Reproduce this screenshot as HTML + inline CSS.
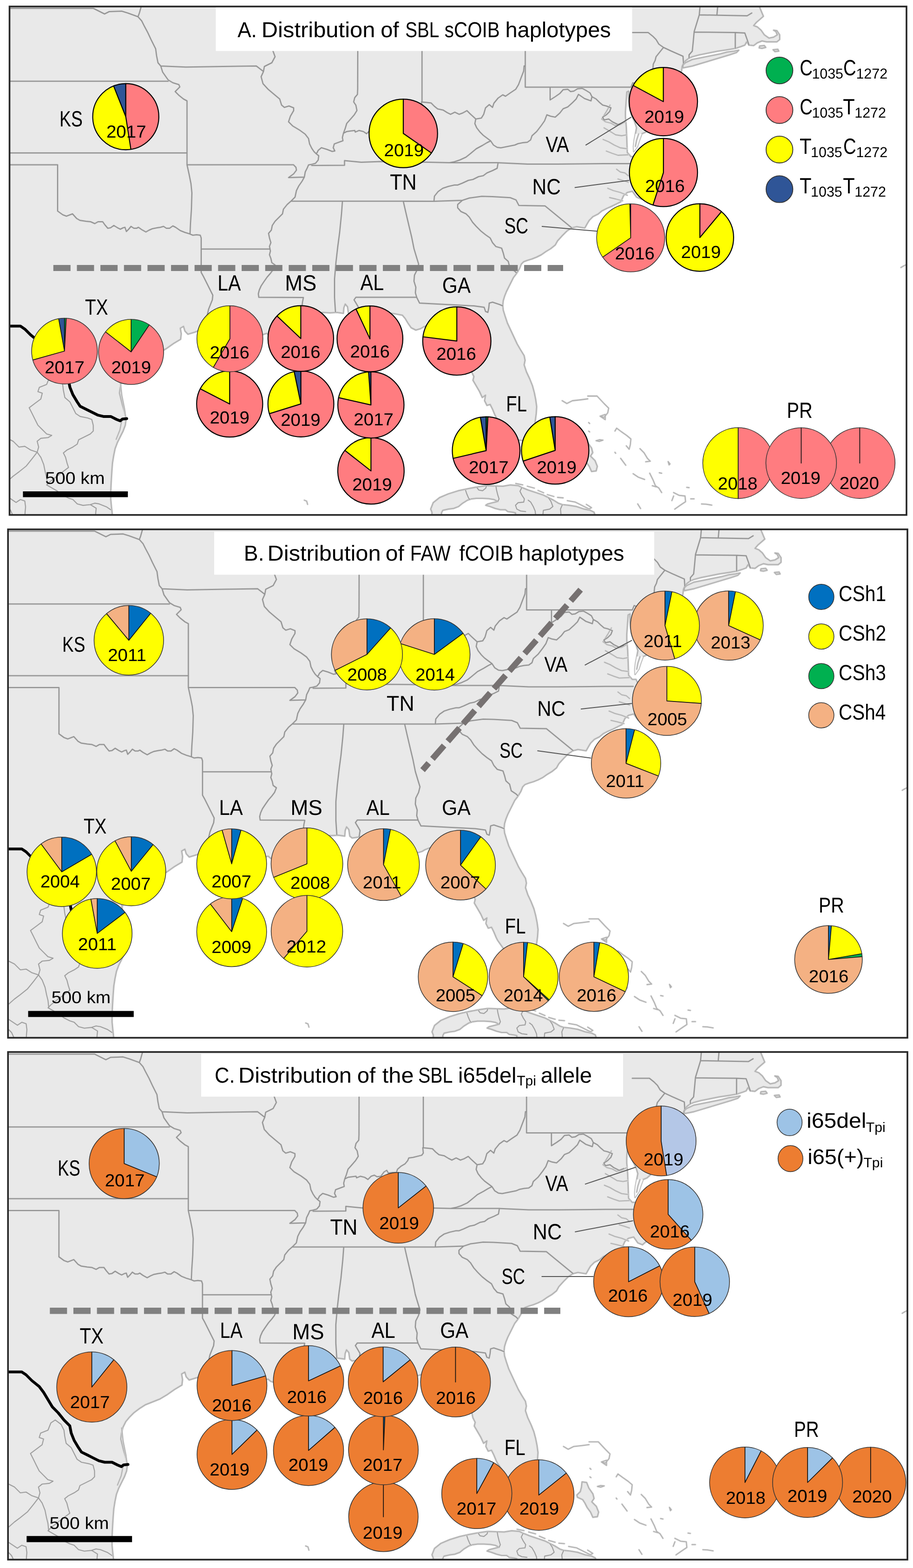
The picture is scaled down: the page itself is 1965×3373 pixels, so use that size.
<!DOCTYPE html>
<html lang="en"><head><meta charset="utf-8"><title>Distribution of haplotypes</title>
<style>
html,body{margin:0;padding:0;background:#fff;}
svg{display:block;font-family:"Liberation Sans",sans-serif;text-rendering:geometricPrecision;}
</style></head><body>
<svg width="1965" height="3373" viewBox="0 0 1965 3373" role="img" aria-label="Maps of haplotype distributions">
<defs>
<g id="basemap" stroke-linejoin="round" stroke-linecap="round">
<path id="mland" d="M1635.0 0.0 L1635.0 16.0 L1640.0 28.0 L1643.0 35.0 L1635.0 42.0 L1628.0 48.0 L1622.0 55.0 L1630.0 58.0 L1638.0 65.0 L1645.0 75.0 L1655.0 82.0 L1665.0 80.0 L1673.0 75.0 L1670.0 68.0 L1665.0 65.0 L1672.0 66.0 L1678.0 75.0 L1678.0 85.0 L1672.0 90.0 L1660.0 90.0 L1650.0 90.0 L1640.0 88.0 L1630.0 92.0 L1622.0 98.0 L1612.0 97.0 L1607.0 90.0 L1603.0 97.0 L1595.0 100.0 L1583.0 104.0 L1565.0 107.0 L1545.0 110.0 L1525.0 114.0 L1505.0 118.0 L1490.0 122.0 L1483.0 125.0 L1476.0 130.0 L1471.0 136.0 L1468.0 143.0 L1467.0 152.0 L1464.0 165.0 L1459.0 180.0 L1453.0 195.0 L1446.0 208.0 L1436.0 220.0 L1422.0 230.0 L1416.0 222.0 L1402.0 212.0 L1392.0 203.0 L1388.0 195.0 L1386.0 203.0 L1392.0 215.0 L1402.0 228.0 L1410.0 237.0 L1412.0 261.0 L1400.0 275.0 L1390.0 284.0 L1381.3 287.7 L1376.0 302.0 L1371.8 315.0 L1364.0 326.0 L1363.6 315.0 L1365.0 302.0 L1367.7 287.7 L1370.0 275.0 L1366.0 262.0 L1360.0 250.0 L1356.0 238.0 L1354.0 225.0 L1353.0 212.0 L1353.0 196.0 L1349.0 198.0 L1348.0 212.0 L1347.0 226.0 L1346.0 240.0 L1346.0 252.0 L1347.0 262.0 L1348.0 275.0 L1348.5 288.0 L1349.0 300.0 L1349.5 315.0 L1350.0 328.0 L1358.0 337.0 L1366.0 337.0 L1372.0 350.0 L1378.0 365.0 L1385.0 385.0 L1390.0 405.0 L1388.0 421.0 L1380.0 428.0 L1370.0 424.0 L1361.0 411.3 L1350.0 414.0 L1342.0 421.0 L1336.0 434.0 L1326.7 438.6 L1315.8 444.0 L1306.3 448.1 L1295.4 453.6 L1287.2 460.4 L1276.3 465.8 L1268.1 474.0 L1264.0 480.8 L1258.6 490.4 L1240.9 487.6 L1230.0 490.4 L1220.0 497.0 L1210.0 507.0 L1200.0 518.0 L1195.0 527.0 L1185.0 535.0 L1175.0 541.0 L1165.0 548.0 L1155.0 553.0 L1145.0 557.0 L1135.0 560.0 L1127.0 563.0 L1122.0 568.0 L1118.0 578.0 L1112.0 588.0 L1105.0 597.0 L1100.0 607.0 L1095.0 617.0 L1090.0 627.0 L1086.0 637.0 L1083.0 647.0 L1082.0 657.0 L1083.0 667.0 L1087.0 680.0 L1092.0 695.0 L1099.0 710.0 L1106.0 725.0 L1113.0 740.0 L1120.0 752.0 L1128.0 765.0 L1130.0 775.0 L1128.0 785.0 L1133.0 800.0 L1140.0 815.0 L1146.0 830.0 L1150.0 845.0 L1153.0 860.0 L1155.0 875.0 L1154.0 890.0 L1152.0 905.0 L1150.0 920.0 L1147.0 932.0 L1140.0 942.0 L1128.0 948.0 L1112.0 946.0 L1100.0 944.0 L1090.0 930.0 L1080.0 915.0 L1068.0 898.0 L1065.0 892.0 L1060.0 880.0 L1055.0 870.0 L1048.0 872.0 L1043.0 862.0 L1045.0 850.0 L1038.0 855.0 L1032.0 842.0 L1025.0 830.0 L1018.0 818.0 L1020.0 810.0 L1015.0 800.0 L1012.0 785.0 L1008.0 770.0 L1003.0 755.0 L1000.0 740.0 L990.0 725.0 L978.0 712.0 L965.0 700.0 L952.0 690.0 L940.0 690.0 L925.0 698.0 L912.0 703.0 L905.0 707.0 L895.0 710.0 L885.0 705.0 L878.0 695.0 L872.0 685.0 L866.0 678.0 L850.0 675.0 L830.0 672.0 L810.0 672.0 L790.0 673.0 L770.0 676.0 L755.0 678.0 L750.0 674.0 L748.0 660.0 L743.0 654.0 L740.0 662.0 L739.0 674.0 L725.0 672.0 L710.0 673.0 L695.0 672.0 L680.0 674.0 L670.0 680.0 L675.0 690.0 L685.0 700.0 L692.0 712.0 L695.0 725.0 L690.0 740.0 L680.0 735.0 L670.0 728.0 L660.0 735.0 L650.0 738.0 L640.0 735.0 L630.0 737.0 L615.0 737.0 L600.0 732.0 L590.0 725.0 L580.0 722.0 L574.0 717.0 L565.0 720.0 L555.0 715.0 L545.0 712.0 L538.0 711.0 L525.0 715.0 L510.0 712.0 L495.0 708.0 L480.0 706.0 L465.0 706.0 L450.0 707.0 L442.0 706.0 L430.0 710.0 L420.0 714.2 L404.4 718.9 L398.0 712.0 L395.0 702.0 L388.0 706.0 L390.0 718.0 L388.7 729.8 L373.0 739.2 L357.4 750.2 L341.7 759.6 L326.0 765.9 L310.3 772.1 L297.8 780.0 L285.3 789.4 L275.9 798.8 L268.0 808.2 L261.8 820.7 L258.6 833.2 L257.1 845.8 L260.2 858.3 L263.3 870.8 L267.1 883.4 L270.2 895.9 L271.2 902.2 L269.6 914.7 L264.9 927.2 L258.6 939.8 L252.4 952.3 L247.7 964.9 L244.5 980.5 L242.0 996.2 L240.8 1011.9 L239.8 1027.5 L238.9 1043.2 L238.3 1058.9 L238.3 1074.5 L239.8 1090.2 L241.4 1104.3 L242.0 1120.0 L0.0 1120.0 L0.0 0.0Z M927.0 1095.1 L932.4 1081.4 L946.0 1070.5 L965.1 1062.4 L986.9 1055.6 L1006.0 1051.5 L1027.8 1047.4 L1046.9 1044.7 L1065.9 1045.5 L1082.3 1046.0 L1098.6 1043.3 L1115.0 1044.7 L1123.2 1048.7 L1136.8 1054.2 L1153.1 1059.6 L1169.5 1065.1 L1180.4 1070.5 L1191.3 1076.0 L1202.2 1082.8 L1210.4 1085.5 L1224.0 1086.9 L1240.3 1089.6 L1256.7 1095.1 L1270.3 1097.8 L1278.5 1101.9 L1284.0 1120.0 L1109.5 1120.0 L1109.5 1103.2 L1104.1 1101.9 L1093.2 1100.5 L1087.7 1096.4 L1076.8 1096.4 L1065.9 1093.7 L1055.0 1089.6 L1045.5 1086.9 L1049.6 1084.2 L1060.5 1081.4 L1071.4 1078.7 L1063.2 1074.6 L1052.3 1072.7 L1038.7 1071.9 L1025.1 1071.9 L1014.2 1073.3 L1006.0 1076.0 L995.1 1082.8 L986.9 1089.6 L976.0 1093.7 L965.1 1095.1 L952.9 1097.8 L950.1 1103.2 L950.0 1120.0 L930.0 1120.0 L929.7 1101.9Z M1470.0 140.0 L1475.0 135.0 L1490.0 128.0 L1510.0 124.0 L1530.0 120.0 L1550.0 116.0 L1565.0 112.0 L1580.0 110.0 L1590.0 108.0 L1585.0 113.0 L1570.0 118.0 L1550.0 124.0 L1530.0 130.0 L1510.0 136.0 L1490.0 142.0 L1470.0 146.0Z M1635.0 99.0 L1645.0 98.0 L1648.0 102.0 L1640.0 104.0 L1634.0 103.0Z M1664.0 107.0 L1674.0 106.0 L1676.0 110.0 L1668.0 111.0Z M1249.9 938.2 L1259.7 939.4 L1264.6 951.7 L1273.2 964.0 L1275.7 973.8 L1270.8 981.1 L1280.6 990.9 L1285.5 1003.2 L1283.0 1013.0 L1273.2 1014.2 L1268.3 1003.2 L1261.0 993.4 L1256.1 983.6 L1251.2 976.2 L1240.1 971.3 L1238.9 966.4 L1246.2 959.1 L1248.7 949.3Z" fill="#e9e9e9" stroke="#d6d6d6" stroke-width="4.2"/>
<path d="M1635.0 0.0 L1635.0 16.0 L1640.0 28.0 L1643.0 35.0 L1635.0 42.0 L1628.0 48.0 L1622.0 55.0 L1630.0 58.0 L1638.0 65.0 L1645.0 75.0 L1655.0 82.0 L1665.0 80.0 L1673.0 75.0 L1670.0 68.0 L1665.0 65.0 L1672.0 66.0 L1678.0 75.0 L1678.0 85.0 L1672.0 90.0 L1660.0 90.0 L1650.0 90.0 L1640.0 88.0 L1630.0 92.0 L1622.0 98.0 L1612.0 97.0 L1607.0 90.0 L1603.0 97.0 L1595.0 100.0 L1583.0 104.0 L1565.0 107.0 L1545.0 110.0 L1525.0 114.0 L1505.0 118.0 L1490.0 122.0 L1483.0 125.0 L1476.0 130.0 L1471.0 136.0 L1468.0 143.0 L1467.0 152.0 L1464.0 165.0 L1459.0 180.0 L1453.0 195.0 L1446.0 208.0 L1436.0 220.0 L1422.0 230.0 L1416.0 222.0 L1402.0 212.0 L1392.0 203.0 L1388.0 195.0 L1386.0 203.0 L1392.0 215.0 L1402.0 228.0 L1410.0 237.0 L1412.0 261.0 L1400.0 275.0 L1390.0 284.0 L1381.3 287.7 L1376.0 302.0 L1371.8 315.0 L1364.0 326.0 L1363.6 315.0 L1365.0 302.0 L1367.7 287.7 L1370.0 275.0 L1366.0 262.0 L1360.0 250.0 L1356.0 238.0 L1354.0 225.0 L1353.0 212.0 L1353.0 196.0 L1349.0 198.0 L1348.0 212.0 L1347.0 226.0 L1346.0 240.0 L1346.0 252.0 L1347.0 262.0 L1348.0 275.0 L1348.5 288.0 L1349.0 300.0 L1349.5 315.0 L1350.0 328.0 L1358.0 337.0 L1366.0 337.0 L1372.0 350.0 L1378.0 365.0 L1385.0 385.0 L1390.0 405.0 L1388.0 421.0 L1380.0 428.0 L1370.0 424.0 L1361.0 411.3 L1350.0 414.0 L1342.0 421.0 L1336.0 434.0 L1326.7 438.6 L1315.8 444.0 L1306.3 448.1 L1295.4 453.6 L1287.2 460.4 L1276.3 465.8 L1268.1 474.0 L1264.0 480.8 L1258.6 490.4 L1240.9 487.6 L1230.0 490.4 L1220.0 497.0 L1210.0 507.0 L1200.0 518.0 L1195.0 527.0 L1185.0 535.0 L1175.0 541.0 L1165.0 548.0 L1155.0 553.0 L1145.0 557.0 L1135.0 560.0 L1127.0 563.0 L1122.0 568.0 L1118.0 578.0 L1112.0 588.0 L1105.0 597.0 L1100.0 607.0 L1095.0 617.0 L1090.0 627.0 L1086.0 637.0 L1083.0 647.0 L1082.0 657.0 L1083.0 667.0 L1087.0 680.0 L1092.0 695.0 L1099.0 710.0 L1106.0 725.0 L1113.0 740.0 L1120.0 752.0 L1128.0 765.0 L1130.0 775.0 L1128.0 785.0 L1133.0 800.0 L1140.0 815.0 L1146.0 830.0 L1150.0 845.0 L1153.0 860.0 L1155.0 875.0 L1154.0 890.0 L1152.0 905.0 L1150.0 920.0 L1147.0 932.0 L1140.0 942.0 L1128.0 948.0 L1112.0 946.0 L1100.0 944.0 L1090.0 930.0 L1080.0 915.0 L1068.0 898.0 L1065.0 892.0 L1060.0 880.0 L1055.0 870.0 L1048.0 872.0 L1043.0 862.0 L1045.0 850.0 L1038.0 855.0 L1032.0 842.0 L1025.0 830.0 L1018.0 818.0 L1020.0 810.0 L1015.0 800.0 L1012.0 785.0 L1008.0 770.0 L1003.0 755.0 L1000.0 740.0 L990.0 725.0 L978.0 712.0 L965.0 700.0 L952.0 690.0 L940.0 690.0 L925.0 698.0 L912.0 703.0 L905.0 707.0 L895.0 710.0 L885.0 705.0 L878.0 695.0 L872.0 685.0 L866.0 678.0 L850.0 675.0 L830.0 672.0 L810.0 672.0 L790.0 673.0 L770.0 676.0 L755.0 678.0 L750.0 674.0 L748.0 660.0 L743.0 654.0 L740.0 662.0 L739.0 674.0 L725.0 672.0 L710.0 673.0 L695.0 672.0 L680.0 674.0 L670.0 680.0 L675.0 690.0 L685.0 700.0 L692.0 712.0 L695.0 725.0 L690.0 740.0 L680.0 735.0 L670.0 728.0 L660.0 735.0 L650.0 738.0 L640.0 735.0 L630.0 737.0 L615.0 737.0 L600.0 732.0 L590.0 725.0 L580.0 722.0 L574.0 717.0 L565.0 720.0 L555.0 715.0 L545.0 712.0 L538.0 711.0 L525.0 715.0 L510.0 712.0 L495.0 708.0 L480.0 706.0 L465.0 706.0 L450.0 707.0 L442.0 706.0 L430.0 710.0 L420.0 714.2 L404.4 718.9 L398.0 712.0 L395.0 702.0 L388.0 706.0 L390.0 718.0 L388.7 729.8 L373.0 739.2 L357.4 750.2 L341.7 759.6 L326.0 765.9 L310.3 772.1 L297.8 780.0 L285.3 789.4 L275.9 798.8 L268.0 808.2 L261.8 820.7 L258.6 833.2 L257.1 845.8 L260.2 858.3 L263.3 870.8 L267.1 883.4 L270.2 895.9 L271.2 902.2 L269.6 914.7 L264.9 927.2 L258.6 939.8 L252.4 952.3 L247.7 964.9 L244.5 980.5 L242.0 996.2 L240.8 1011.9 L239.8 1027.5 L238.9 1043.2 L238.3 1058.9 L238.3 1074.5 L239.8 1090.2 L241.4 1104.3 L242.0 1120.0 L0.0 1120.0 L0.0 0.0Z M927.0 1095.1 L932.4 1081.4 L946.0 1070.5 L965.1 1062.4 L986.9 1055.6 L1006.0 1051.5 L1027.8 1047.4 L1046.9 1044.7 L1065.9 1045.5 L1082.3 1046.0 L1098.6 1043.3 L1115.0 1044.7 L1123.2 1048.7 L1136.8 1054.2 L1153.1 1059.6 L1169.5 1065.1 L1180.4 1070.5 L1191.3 1076.0 L1202.2 1082.8 L1210.4 1085.5 L1224.0 1086.9 L1240.3 1089.6 L1256.7 1095.1 L1270.3 1097.8 L1278.5 1101.9 L1284.0 1120.0 L1109.5 1120.0 L1109.5 1103.2 L1104.1 1101.9 L1093.2 1100.5 L1087.7 1096.4 L1076.8 1096.4 L1065.9 1093.7 L1055.0 1089.6 L1045.5 1086.9 L1049.6 1084.2 L1060.5 1081.4 L1071.4 1078.7 L1063.2 1074.6 L1052.3 1072.7 L1038.7 1071.9 L1025.1 1071.9 L1014.2 1073.3 L1006.0 1076.0 L995.1 1082.8 L986.9 1089.6 L976.0 1093.7 L965.1 1095.1 L952.9 1097.8 L950.1 1103.2 L950.0 1120.0 L930.0 1120.0 L929.7 1101.9Z M1470.0 140.0 L1475.0 135.0 L1490.0 128.0 L1510.0 124.0 L1530.0 120.0 L1550.0 116.0 L1565.0 112.0 L1580.0 110.0 L1590.0 108.0 L1585.0 113.0 L1570.0 118.0 L1550.0 124.0 L1530.0 130.0 L1510.0 136.0 L1490.0 142.0 L1470.0 146.0Z M1635.0 99.0 L1645.0 98.0 L1648.0 102.0 L1640.0 104.0 L1634.0 103.0Z M1664.0 107.0 L1674.0 106.0 L1676.0 110.0 L1668.0 111.0Z M1249.9 938.2 L1259.7 939.4 L1264.6 951.7 L1273.2 964.0 L1275.7 973.8 L1270.8 981.1 L1280.6 990.9 L1285.5 1003.2 L1283.0 1013.0 L1273.2 1014.2 L1268.3 1003.2 L1261.0 993.4 L1256.1 983.6 L1251.2 976.2 L1240.1 971.3 L1238.9 966.4 L1246.2 959.1 L1248.7 949.3Z" fill="none" stroke="#b0b0b0" stroke-width="2"/>
<path d="M1381.3 287.7 L1376.0 302.0 L1371.8 315.0 L1364.0 326.0 L1363.6 315.0 L1365.0 302.0 L1367.7 287.7Z" fill="#fafafa"/>
<path d="M1210.0 862.0 L1220.0 868.0 L1232.0 862.0 L1250.0 860.0 L1265.0 858.0 M1265.0 852.0 L1285.0 852.0 L1300.0 868.0 L1310.0 878.0 L1308.0 888.0 L1300.0 898.0 L1293.0 895.0 M1291.6 895.3 L1302.6 891.6 L1302.6 902.7 L1291.6 895.3 M1283.0 948.0 L1290.0 946.0 L1297.7 946.8 L1290.0 949.5 L1283.0 948.0 M1323.5 927.2 L1327.2 921.1 L1337.0 928.4 L1349.2 937.0 L1357.8 944.3 L1356.6 956.6 L1354.1 966.4 L1348.0 959.1 M1377.4 965.2 L1386.0 973.8 L1393.4 986.0 L1399.5 992.2 L1389.7 993.4 M1335.8 986.0 L1346.8 1000.8 M1362.7 1019.1 L1373.8 1026.5 L1387.3 1031.4 M1398.3 1017.9 L1405.6 1032.6 L1410.6 1044.9 L1417.9 1049.8 L1424.0 1059.6 M1404.0 1044.9 L1412.6 1047.3 M1438.0 993.0 L1442.0 998.0 L1440.0 1000.0 L1438.0 993.0 M1419.0 1017.0 L1424.0 1018.0 M1478.0 1048.3 L1483.0 1049.0 M1449.8 1059.6 L1462.0 1065.7 L1474.3 1067.0 L1475.5 1079.2 L1464.5 1086.6 L1452.2 1095.2 M1449.8 1067.0 L1446.1 1076.8 M1509.9 1084.1 L1520.0 1084.6 L1531.9 1086.6 M1486.6 1073.1 L1493.9 1073.1 M1372.5 1084.1 L1378.7 1093.9 M1267.0 909.0 L1269.0 911.0 M1267.0 927.5 L1269.0 929.0 M1323.5 973.0 L1325.0 975.0 M655.0 1076.0 L660.0 1078.0 L662.0 1085.0 M1939.0 575.5 L1944.0 572.5 L1949.0 570.0 M1110.0 1040.0 L1125.0 1043.0 M1135.0 1046.0 L1150.0 1050.0 M1158.0 1055.0 L1170.0 1060.0 M1178.0 1064.0 L1192.0 1068.0 M1200.0 1070.0 L1212.0 1071.0 M1221.0 1077.0 L1238.0 1080.0 L1254.0 1088.0 L1268.0 1095.0 L1273.0 1092.0 L1262.0 1085.0 M259.0 822.0 L262.0 850.0 L268.0 880.0 L270.0 895.0 M262.0 905.0 L258.0 925.0 L250.0 945.0 M1313.0 226.0 L1305.0 240.0 L1295.0 256.0 L1303.0 262.0 L1315.0 265.0 L1324.0 270.0 L1335.0 268.0 L1346.0 262.0 M1300.0 275.0 L1312.0 282.0 L1325.0 290.0 L1338.0 292.0 L1349.0 290.0 M1298.0 300.0 L1310.0 305.0 L1322.0 312.0 L1335.0 318.0 L1350.0 320.0 M1305.0 325.0 L1318.0 330.0 L1330.0 334.0 L1352.0 333.0 M1374.5 288.0 L1370.0 302.0 L1367.5 315.0 M1327.0 364.0 L1335.0 370.0 L1345.0 372.0 L1352.0 378.0 M1330.0 385.0 L1340.0 388.0 L1352.0 392.0 M1308.0 405.0 L1320.0 410.0 L1335.0 414.0 L1350.0 420.0 M1312.0 425.0 L1325.0 428.0 L1340.0 432.0" fill="none" stroke="#dadada" stroke-width="3.8"/>
<path d="M1210.0 862.0 L1220.0 868.0 L1232.0 862.0 L1250.0 860.0 L1265.0 858.0 M1265.0 852.0 L1285.0 852.0 L1300.0 868.0 L1310.0 878.0 L1308.0 888.0 L1300.0 898.0 L1293.0 895.0 M1291.6 895.3 L1302.6 891.6 L1302.6 902.7 L1291.6 895.3 M1283.0 948.0 L1290.0 946.0 L1297.7 946.8 L1290.0 949.5 L1283.0 948.0 M1323.5 927.2 L1327.2 921.1 L1337.0 928.4 L1349.2 937.0 L1357.8 944.3 L1356.6 956.6 L1354.1 966.4 L1348.0 959.1 M1377.4 965.2 L1386.0 973.8 L1393.4 986.0 L1399.5 992.2 L1389.7 993.4 M1335.8 986.0 L1346.8 1000.8 M1362.7 1019.1 L1373.8 1026.5 L1387.3 1031.4 M1398.3 1017.9 L1405.6 1032.6 L1410.6 1044.9 L1417.9 1049.8 L1424.0 1059.6 M1404.0 1044.9 L1412.6 1047.3 M1438.0 993.0 L1442.0 998.0 L1440.0 1000.0 L1438.0 993.0 M1419.0 1017.0 L1424.0 1018.0 M1478.0 1048.3 L1483.0 1049.0 M1449.8 1059.6 L1462.0 1065.7 L1474.3 1067.0 L1475.5 1079.2 L1464.5 1086.6 L1452.2 1095.2 M1449.8 1067.0 L1446.1 1076.8 M1509.9 1084.1 L1520.0 1084.6 L1531.9 1086.6 M1486.6 1073.1 L1493.9 1073.1 M1372.5 1084.1 L1378.7 1093.9 M1267.0 909.0 L1269.0 911.0 M1267.0 927.5 L1269.0 929.0 M1323.5 973.0 L1325.0 975.0 M655.0 1076.0 L660.0 1078.0 L662.0 1085.0 M1939.0 575.5 L1944.0 572.5 L1949.0 570.0 M1110.0 1040.0 L1125.0 1043.0 M1135.0 1046.0 L1150.0 1050.0 M1158.0 1055.0 L1170.0 1060.0 M1178.0 1064.0 L1192.0 1068.0 M1200.0 1070.0 L1212.0 1071.0 M1221.0 1077.0 L1238.0 1080.0 L1254.0 1088.0 L1268.0 1095.0 L1273.0 1092.0 L1262.0 1085.0 M259.0 822.0 L262.0 850.0 L268.0 880.0 L270.0 895.0 M262.0 905.0 L258.0 925.0 L250.0 945.0 M1313.0 226.0 L1305.0 240.0 L1295.0 256.0 L1303.0 262.0 L1315.0 265.0 L1324.0 270.0 L1335.0 268.0 L1346.0 262.0 M1300.0 275.0 L1312.0 282.0 L1325.0 290.0 L1338.0 292.0 L1349.0 290.0 M1298.0 300.0 L1310.0 305.0 L1322.0 312.0 L1335.0 318.0 L1350.0 320.0 M1305.0 325.0 L1318.0 330.0 L1330.0 334.0 L1352.0 333.0 M1374.5 288.0 L1370.0 302.0 L1367.5 315.0 M1327.0 364.0 L1335.0 370.0 L1345.0 372.0 L1352.0 378.0 M1330.0 385.0 L1340.0 388.0 L1352.0 392.0 M1308.0 405.0 L1320.0 410.0 L1335.0 414.0 L1350.0 420.0 M1312.0 425.0 L1325.0 428.0 L1340.0 432.0" fill="none" stroke="#b0b0b0" stroke-width="1.8"/>
<path d="M0.0 18.0 L201.0 18.0 L225.0 30.0 L235.0 25.0 L262.0 24.0 L275.0 28.0 L297.0 36.0 M297.0 36.0 L300.0 28.0 L305.0 10.0 M297.0 36.0 L305.0 45.0 L310.0 55.0 L318.0 70.0 L325.0 85.0 L330.0 95.0 L335.0 105.0 L337.0 120.0 L340.0 135.0 L346.0 142.0 L350.0 155.0 L357.0 165.0 L362.0 172.0 L372.0 178.0 L385.0 182.0 L387.0 187.0 L377.0 197.0 L385.0 205.0 L395.0 213.0 L402.5 217.0 L402.5 354.5 M346.0 142.0 L400.0 144.3 L480.0 143.0 L551.6 141.9 L567.0 153.8 M0.0 174.7 L362.0 174.7 M0.0 329.0 L402.5 329.0 M0.0 354.5 L124.0 354.5 L124.0 454.0 M124.0 454.0 L135.0 462.0 L143.0 465.0 L156.0 460.0 L165.0 470.0 L172.0 474.0 L185.0 476.0 L195.0 477.0 L204.0 481.0 L211.0 477.0 L221.0 477.0 L226.0 484.0 L232.0 491.0 L238.0 490.0 L245.0 485.0 L253.0 490.0 L259.0 493.0 L265.0 490.0 L269.0 489.0 L272.0 498.0 L277.0 493.0 L282.0 487.0 L288.0 491.0 L294.0 491.0 L298.0 489.0 L305.0 494.0 L314.0 499.0 L321.0 495.0 L328.0 492.0 L338.0 490.0 L345.0 489.0 L352.0 487.0 L358.0 491.0 L365.0 491.0 L372.0 486.0 L378.0 489.0 L388.0 496.0 L398.0 500.0 L408.0 503.0 L415.0 506.0 L423.0 505.0 L431.0 506.0 L433.0 512.0 M402.5 354.5 L407.0 375.0 L411.0 395.0 L413.0 415.0 L412.0 450.0 L410.0 480.0 L409.0 503.0 M402.5 354.5 L631.6 354.4 L637.0 360.0 L638.0 366.0 L632.0 374.0 L621.0 382.0 L655.0 381.0 M433.0 512.0 L433.0 586.0 L438.0 595.0 L443.0 605.0 L448.0 615.0 L453.0 625.0 L458.0 635.0 L457.0 645.0 L453.0 655.0 L449.0 665.0 L446.0 678.0 L444.0 690.0 L442.0 706.0 M433.0 535.7 L581.0 535.7 M584.0 100.0 L592.0 122.0 L585.0 135.0 L569.0 143.0 L567.0 154.0 L562.0 165.0 L566.0 180.0 L577.0 192.0 L590.0 203.0 L602.0 213.0 L606.0 226.0 L612.0 231.0 L622.0 228.0 L632.0 232.0 L632.0 238.0 L625.0 250.0 L621.0 262.0 L630.0 271.0 L645.0 280.0 L657.0 288.8 L664.0 298.0 L666.3 309.6 L670.9 318.9 L675.5 325.8 L680.2 330.5 M680.2 330.5 L686.0 335.1 L684.8 344.4 L679.0 351.3 L670.9 353.6 L664.0 354.8 L661.6 360.6 L657.0 369.8 L655.0 381.0 L650.0 390.0 L643.0 400.0 L638.0 410.0 L635.0 424.0 L627.0 432.0 L618.0 440.0 L610.0 450.0 L608.0 460.0 L600.0 468.0 L592.0 476.0 L586.0 485.0 L584.0 495.0 L578.0 502.0 L580.0 512.0 L583.0 522.0 L580.0 530.0 L582.0 540.0 L580.0 548.0 L583.0 556.0 L585.0 565.0 L592.0 570.0 L588.0 580.0 L582.0 588.0 L575.0 596.0 L568.0 606.0 L562.0 615.0 L558.0 624.0 L556.0 632.0 L557.0 639.5 M557.0 639.5 L653.0 640.0 L651.0 650.0 L650.0 660.0 L652.0 672.0 L660.0 680.0 L670.0 680.0 M680.2 330.5 L682.5 328.2 L684.8 323.5 L691.7 317.7 L703.3 321.2 L714.9 325.8 L720.7 324.7 L717.2 317.7 L719.5 309.6 L728.8 306.1 L738.1 302.7 L736.9 295.7 L739.2 286.5 M739.2 286.5 L742.7 277.2 L746.2 265.6 L754.3 256.4 L762.4 247.1 L768.2 237.8 L765.9 226.2 L761.2 219.3 L763.5 210.0 L769.3 203.1 L769.8 191.5 L770.0 100.0 M739.2 286.5 L746.2 283.0 L754.3 281.8 L763.5 280.7 L764.7 284.1 L772.8 280.7 L782.1 283.0 L789.0 287.6 L796.0 280.7 L802.9 278.4 L808.7 281.8 L816.8 280.7 L823.8 271.4 L829.5 267.9 L833.0 273.7 L842.3 272.6 L850.4 272.6 L852.7 265.6 L860.8 258.7 L868.9 254.0 L874.7 247.1 L877.0 241.3 L886.3 240.1 L895.6 237.8 L904.8 235.5 L908.3 230.9 L907.1 219.3 L918.7 220.5 L928.0 221.6 L934.9 228.6 L941.9 234.3 L953.5 236.7 L962.7 242.4 L969.7 245.9 L978.9 241.3 L988.2 245.9 L996.0 243.0 L1005.0 238.0 L1012.0 245.0 L1024.0 256.0 M908.3 100.0 L908.3 219.3 M1024.0 256.0 L1036.0 254.0 L1041.0 246.0 L1045.0 232.0 L1053.0 225.0 L1060.0 231.0 L1063.0 222.0 L1072.0 211.0 L1082.0 204.0 L1088.0 207.0 L1098.0 200.0 L1110.0 192.0 L1116.0 182.0 L1122.0 166.0 L1127.0 153.0 L1128.0 142.0 L1130.5 141.0 M1130.5 100.0 L1130.5 187.5 L1358.0 187.5 M1184.0 187.5 L1184.0 215.0 L1195.0 208.0 L1205.0 201.0 L1212.0 193.0 L1222.0 192.0 L1228.0 197.0 L1235.0 196.0 L1243.0 191.0 L1253.0 190.0 L1262.0 195.0 L1270.0 200.0 L1274.0 208.0 L1272.0 217.0 M1272.0 217.0 L1258.0 212.0 L1245.0 203.0 L1240.0 213.0 L1232.0 221.0 L1222.0 230.0 L1212.0 234.0 L1205.0 243.0 L1195.0 252.0 L1185.0 250.0 L1177.0 247.0 L1172.0 260.0 L1165.0 270.0 L1155.0 283.0 L1145.0 292.0 L1142.0 301.0 L1135.0 306.0 L1125.0 307.0 L1115.0 309.0 L1108.0 312.0 L1098.0 314.0 L1088.0 316.0 L1078.0 318.0 L1070.0 317.0 L1062.0 312.0 L1056.0 303.0 M1024.0 256.0 L1022.0 266.0 L1026.0 275.0 L1033.0 284.0 L1040.0 291.0 L1048.0 297.0 L1056.0 303.0 M1056.0 303.0 L1048.0 307.0 L1038.0 313.0 L1025.0 320.0 L1013.0 330.0 L1003.0 338.0 L990.0 344.0 L978.0 348.0 L967.0 350.0 M670.9 355.9 L741.5 355.5 L741.5 345.5 L777.4 349.0 L820.0 347.5 L880.0 348.0 L967.0 350.0 L1070.0 350.0 L1135.0 353.0 L1200.0 353.0 L1300.0 352.0 L1360.0 352.0 M1072.0 350.0 L1070.0 362.0 L1060.0 367.0 L1048.0 372.0 L1040.0 378.0 L1030.0 380.0 L1018.0 386.0 L1008.0 388.0 L995.0 394.0 L985.0 398.0 L978.0 398.0 L965.0 401.0 L953.0 405.0 L943.0 412.0 L935.0 422.0 L934.0 433.0 M627.0 432.8 L737.0 432.8 L868.0 432.8 L934.0 433.0 L995.0 431.0 M737.0 433.0 L735.0 460.0 L731.0 500.0 L727.0 530.0 L723.0 565.0 L720.0 600.0 L720.0 640.0 L722.0 671.0 M868.0 433.0 L873.0 455.0 L880.0 485.0 L886.0 510.0 L891.0 535.0 L897.0 555.0 L901.0 568.0 L898.0 580.0 L892.0 592.0 L891.0 605.0 L895.0 618.0 L894.0 630.0 L897.0 640.0 L903.0 652.0 M897.0 639.5 L766.0 639.5 L762.0 645.0 L768.0 655.0 L772.0 662.0 L770.0 676.0 M903.0 652.0 L960.0 655.0 L1020.0 658.0 L1042.0 661.0 L1045.0 670.0 L1050.0 672.0 L1052.0 662.0 L1053.0 652.0 L1060.0 650.0 L1075.0 655.0 L1082.0 658.0 M995.0 431.0 L1010.0 426.0 L1037.0 422.3 L1060.0 423.0 L1098.3 425.2 L1110.6 430.1 L1116.7 441.9 L1173.1 442.9 L1230.7 490.2 M995.0 431.0 L985.0 440.0 L985.0 447.0 L992.0 455.0 L1003.0 460.0 L1010.0 467.0 L1017.0 478.0 L1025.0 487.0 L1035.0 497.0 L1045.0 505.0 L1055.0 512.0 L1060.0 522.0 L1067.3 530.4 L1079.7 533.9 L1083.2 544.6 L1085.9 555.2 L1093.9 562.3 L1097.4 576.5 L1108.0 583.5 L1111.6 587.1 M1274.0 208.0 L1283.0 213.0 L1290.0 220.0 L1297.0 226.0 L1305.0 228.0 L1315.0 232.0 L1312.0 240.0 L1305.0 247.0 L1297.0 252.0 L1300.0 258.0 L1310.0 256.0 L1318.0 262.0 L1330.0 268.0 L1340.0 264.0 M1358.0 70.0 L1395.0 70.0 L1405.0 78.0 L1412.0 85.0 L1418.0 95.0 L1428.0 102.0 L1420.0 112.0 L1412.0 122.0 L1410.0 130.0 L1406.0 138.0 L1405.0 150.0 L1398.0 160.0 L1390.0 170.0 L1385.0 180.0 L1384.0 190.0 L1388.0 195.0 M1428.0 102.0 L1445.0 110.0 L1470.0 121.0 L1471.0 136.0 M1358.0 187.5 L1362.0 178.0 L1372.0 182.0 L1374.0 200.0 L1376.0 240.0 L1378.0 262.0 L1411.0 262.0 M1507.0 10.0 L1505.0 32.0 L1498.0 55.0 L1494.0 68.0 L1492.0 90.0 L1490.0 110.0 L1483.0 118.0 L1483.0 125.0 M1505.0 32.0 L1608.0 34.0 L1618.0 28.0 M1545.0 10.0 L1543.0 32.0 M1494.0 69.0 L1583.0 70.0 L1603.0 71.0 L1608.0 85.0 L1612.0 97.0 M1582.5 70.0 L1582.5 104.0" fill="none" stroke="#d0d0d0" stroke-width="3.8"/>
<path d="M128.6 814.4 L134.9 827.0 L136.4 839.5 L139.6 855.2 L150.5 864.6 L156.8 877.1 L163.1 889.6 L172.5 895.9 L188.1 899.0 L197.5 902.2 L200.7 914.7 L200.7 927.2 L194.4 933.5 L181.9 939.8 L169.3 946.0 L166.2 955.4 L156.8 961.7 L144.3 968.0 L136.4 974.3 L141.1 983.7 L144.3 996.2 L147.4 1005.6 L134.9 1015.0 L122.3 1024.4 L106.7 1036.9 L100.4 1043.2 L122.3 1055.7 L134.9 1065.1 L147.4 1071.4 L156.8 1074.5 L166.2 1083.9 L178.7 1087.1 L194.4 1085.5 L203.8 1082.4 L213.2 1083.9 L228.9 1090.2 L238.3 1096.5 M128.6 814.4 L116.1 805.0 L106.7 811.3 L100.4 827.0 L84.7 833.2 L81.6 842.6 L91.0 845.8 L87.9 858.3 L75.3 867.7 L62.8 877.1 L69.1 889.6 L75.3 902.2 L81.6 914.7 L91.0 924.1 L100.4 933.5 L111.4 936.6 L103.5 941.3 L87.9 942.9 L80.0 949.2 L83.2 961.7 L80.0 972.7 M15.8 942.9 L28.3 949.2 L40.9 961.7 L53.4 960.1 L65.9 968.0 L80.0 972.7 M80.0 972.7 L87.9 983.7 L94.1 999.3 L97.3 1015.0 L100.4 1027.5 L102.0 1043.2 M80.0 972.7 L69.1 986.8 L56.5 1002.5 L40.9 1015.0 L28.3 1024.4 L15.8 1035.4 M15.8 1068.3 L25.2 1074.5 L34.6 1080.8 L44.0 1074.5 L53.4 1077.7 L55.0 1090.2 L53.4 1110.0 M15.8 1090.2 L22.0 1096.5 L28.3 1110.0 M194.4 1085.5 L207.0 1093.3 L205.4 1110.0 M1001.9 1054.2 L1004.6 1062.4 L1008.7 1071.9 L1011.4 1074.6 M1067.3 1045.5 L1068.7 1054.2 L1071.4 1065.1 L1074.1 1073.3 L1071.4 1078.7 M1123.2 1048.7 L1119.1 1056.9 L1123.2 1065.1 L1128.6 1073.3 L1127.2 1080.1 L1115.0 1081.4 L1109.5 1086.9 L1112.3 1095.1 L1120.4 1099.2 L1131.3 1100.5 M1136.8 1076.0 L1142.2 1080.1 L1147.7 1089.6 L1151.8 1099.2 L1153.1 1110.0 M1180.4 1070.5 L1185.8 1078.7 L1189.9 1089.6 L1183.1 1095.1 L1169.5 1097.8 L1168.1 1110.0 M1210.4 1085.5 L1206.3 1095.1 L1207.7 1110.0 M1026.4 1048.7 L1030.5 1054.2 L1038.7 1055.6 L1045.5 1050.1 L1046.9 1045.5" fill="none" stroke="#d6d6d6" stroke-width="3.2"/>
<path d="M0.0 18.0 L201.0 18.0 L225.0 30.0 L235.0 25.0 L262.0 24.0 L275.0 28.0 L297.0 36.0 M297.0 36.0 L300.0 28.0 L305.0 10.0 M297.0 36.0 L305.0 45.0 L310.0 55.0 L318.0 70.0 L325.0 85.0 L330.0 95.0 L335.0 105.0 L337.0 120.0 L340.0 135.0 L346.0 142.0 L350.0 155.0 L357.0 165.0 L362.0 172.0 L372.0 178.0 L385.0 182.0 L387.0 187.0 L377.0 197.0 L385.0 205.0 L395.0 213.0 L402.5 217.0 L402.5 354.5 M346.0 142.0 L400.0 144.3 L480.0 143.0 L551.6 141.9 L567.0 153.8 M0.0 174.7 L362.0 174.7 M0.0 329.0 L402.5 329.0 M0.0 354.5 L124.0 354.5 L124.0 454.0 M124.0 454.0 L135.0 462.0 L143.0 465.0 L156.0 460.0 L165.0 470.0 L172.0 474.0 L185.0 476.0 L195.0 477.0 L204.0 481.0 L211.0 477.0 L221.0 477.0 L226.0 484.0 L232.0 491.0 L238.0 490.0 L245.0 485.0 L253.0 490.0 L259.0 493.0 L265.0 490.0 L269.0 489.0 L272.0 498.0 L277.0 493.0 L282.0 487.0 L288.0 491.0 L294.0 491.0 L298.0 489.0 L305.0 494.0 L314.0 499.0 L321.0 495.0 L328.0 492.0 L338.0 490.0 L345.0 489.0 L352.0 487.0 L358.0 491.0 L365.0 491.0 L372.0 486.0 L378.0 489.0 L388.0 496.0 L398.0 500.0 L408.0 503.0 L415.0 506.0 L423.0 505.0 L431.0 506.0 L433.0 512.0 M402.5 354.5 L407.0 375.0 L411.0 395.0 L413.0 415.0 L412.0 450.0 L410.0 480.0 L409.0 503.0 M402.5 354.5 L631.6 354.4 L637.0 360.0 L638.0 366.0 L632.0 374.0 L621.0 382.0 L655.0 381.0 M433.0 512.0 L433.0 586.0 L438.0 595.0 L443.0 605.0 L448.0 615.0 L453.0 625.0 L458.0 635.0 L457.0 645.0 L453.0 655.0 L449.0 665.0 L446.0 678.0 L444.0 690.0 L442.0 706.0 M433.0 535.7 L581.0 535.7 M584.0 100.0 L592.0 122.0 L585.0 135.0 L569.0 143.0 L567.0 154.0 L562.0 165.0 L566.0 180.0 L577.0 192.0 L590.0 203.0 L602.0 213.0 L606.0 226.0 L612.0 231.0 L622.0 228.0 L632.0 232.0 L632.0 238.0 L625.0 250.0 L621.0 262.0 L630.0 271.0 L645.0 280.0 L657.0 288.8 L664.0 298.0 L666.3 309.6 L670.9 318.9 L675.5 325.8 L680.2 330.5 M680.2 330.5 L686.0 335.1 L684.8 344.4 L679.0 351.3 L670.9 353.6 L664.0 354.8 L661.6 360.6 L657.0 369.8 L655.0 381.0 L650.0 390.0 L643.0 400.0 L638.0 410.0 L635.0 424.0 L627.0 432.0 L618.0 440.0 L610.0 450.0 L608.0 460.0 L600.0 468.0 L592.0 476.0 L586.0 485.0 L584.0 495.0 L578.0 502.0 L580.0 512.0 L583.0 522.0 L580.0 530.0 L582.0 540.0 L580.0 548.0 L583.0 556.0 L585.0 565.0 L592.0 570.0 L588.0 580.0 L582.0 588.0 L575.0 596.0 L568.0 606.0 L562.0 615.0 L558.0 624.0 L556.0 632.0 L557.0 639.5 M557.0 639.5 L653.0 640.0 L651.0 650.0 L650.0 660.0 L652.0 672.0 L660.0 680.0 L670.0 680.0 M680.2 330.5 L682.5 328.2 L684.8 323.5 L691.7 317.7 L703.3 321.2 L714.9 325.8 L720.7 324.7 L717.2 317.7 L719.5 309.6 L728.8 306.1 L738.1 302.7 L736.9 295.7 L739.2 286.5 M739.2 286.5 L742.7 277.2 L746.2 265.6 L754.3 256.4 L762.4 247.1 L768.2 237.8 L765.9 226.2 L761.2 219.3 L763.5 210.0 L769.3 203.1 L769.8 191.5 L770.0 100.0 M739.2 286.5 L746.2 283.0 L754.3 281.8 L763.5 280.7 L764.7 284.1 L772.8 280.7 L782.1 283.0 L789.0 287.6 L796.0 280.7 L802.9 278.4 L808.7 281.8 L816.8 280.7 L823.8 271.4 L829.5 267.9 L833.0 273.7 L842.3 272.6 L850.4 272.6 L852.7 265.6 L860.8 258.7 L868.9 254.0 L874.7 247.1 L877.0 241.3 L886.3 240.1 L895.6 237.8 L904.8 235.5 L908.3 230.9 L907.1 219.3 L918.7 220.5 L928.0 221.6 L934.9 228.6 L941.9 234.3 L953.5 236.7 L962.7 242.4 L969.7 245.9 L978.9 241.3 L988.2 245.9 L996.0 243.0 L1005.0 238.0 L1012.0 245.0 L1024.0 256.0 M908.3 100.0 L908.3 219.3 M1024.0 256.0 L1036.0 254.0 L1041.0 246.0 L1045.0 232.0 L1053.0 225.0 L1060.0 231.0 L1063.0 222.0 L1072.0 211.0 L1082.0 204.0 L1088.0 207.0 L1098.0 200.0 L1110.0 192.0 L1116.0 182.0 L1122.0 166.0 L1127.0 153.0 L1128.0 142.0 L1130.5 141.0 M1130.5 100.0 L1130.5 187.5 L1358.0 187.5 M1184.0 187.5 L1184.0 215.0 L1195.0 208.0 L1205.0 201.0 L1212.0 193.0 L1222.0 192.0 L1228.0 197.0 L1235.0 196.0 L1243.0 191.0 L1253.0 190.0 L1262.0 195.0 L1270.0 200.0 L1274.0 208.0 L1272.0 217.0 M1272.0 217.0 L1258.0 212.0 L1245.0 203.0 L1240.0 213.0 L1232.0 221.0 L1222.0 230.0 L1212.0 234.0 L1205.0 243.0 L1195.0 252.0 L1185.0 250.0 L1177.0 247.0 L1172.0 260.0 L1165.0 270.0 L1155.0 283.0 L1145.0 292.0 L1142.0 301.0 L1135.0 306.0 L1125.0 307.0 L1115.0 309.0 L1108.0 312.0 L1098.0 314.0 L1088.0 316.0 L1078.0 318.0 L1070.0 317.0 L1062.0 312.0 L1056.0 303.0 M1024.0 256.0 L1022.0 266.0 L1026.0 275.0 L1033.0 284.0 L1040.0 291.0 L1048.0 297.0 L1056.0 303.0 M1056.0 303.0 L1048.0 307.0 L1038.0 313.0 L1025.0 320.0 L1013.0 330.0 L1003.0 338.0 L990.0 344.0 L978.0 348.0 L967.0 350.0 M670.9 355.9 L741.5 355.5 L741.5 345.5 L777.4 349.0 L820.0 347.5 L880.0 348.0 L967.0 350.0 L1070.0 350.0 L1135.0 353.0 L1200.0 353.0 L1300.0 352.0 L1360.0 352.0 M1072.0 350.0 L1070.0 362.0 L1060.0 367.0 L1048.0 372.0 L1040.0 378.0 L1030.0 380.0 L1018.0 386.0 L1008.0 388.0 L995.0 394.0 L985.0 398.0 L978.0 398.0 L965.0 401.0 L953.0 405.0 L943.0 412.0 L935.0 422.0 L934.0 433.0 M627.0 432.8 L737.0 432.8 L868.0 432.8 L934.0 433.0 L995.0 431.0 M737.0 433.0 L735.0 460.0 L731.0 500.0 L727.0 530.0 L723.0 565.0 L720.0 600.0 L720.0 640.0 L722.0 671.0 M868.0 433.0 L873.0 455.0 L880.0 485.0 L886.0 510.0 L891.0 535.0 L897.0 555.0 L901.0 568.0 L898.0 580.0 L892.0 592.0 L891.0 605.0 L895.0 618.0 L894.0 630.0 L897.0 640.0 L903.0 652.0 M897.0 639.5 L766.0 639.5 L762.0 645.0 L768.0 655.0 L772.0 662.0 L770.0 676.0 M903.0 652.0 L960.0 655.0 L1020.0 658.0 L1042.0 661.0 L1045.0 670.0 L1050.0 672.0 L1052.0 662.0 L1053.0 652.0 L1060.0 650.0 L1075.0 655.0 L1082.0 658.0 M995.0 431.0 L1010.0 426.0 L1037.0 422.3 L1060.0 423.0 L1098.3 425.2 L1110.6 430.1 L1116.7 441.9 L1173.1 442.9 L1230.7 490.2 M995.0 431.0 L985.0 440.0 L985.0 447.0 L992.0 455.0 L1003.0 460.0 L1010.0 467.0 L1017.0 478.0 L1025.0 487.0 L1035.0 497.0 L1045.0 505.0 L1055.0 512.0 L1060.0 522.0 L1067.3 530.4 L1079.7 533.9 L1083.2 544.6 L1085.9 555.2 L1093.9 562.3 L1097.4 576.5 L1108.0 583.5 L1111.6 587.1 M1274.0 208.0 L1283.0 213.0 L1290.0 220.0 L1297.0 226.0 L1305.0 228.0 L1315.0 232.0 L1312.0 240.0 L1305.0 247.0 L1297.0 252.0 L1300.0 258.0 L1310.0 256.0 L1318.0 262.0 L1330.0 268.0 L1340.0 264.0 M1358.0 70.0 L1395.0 70.0 L1405.0 78.0 L1412.0 85.0 L1418.0 95.0 L1428.0 102.0 L1420.0 112.0 L1412.0 122.0 L1410.0 130.0 L1406.0 138.0 L1405.0 150.0 L1398.0 160.0 L1390.0 170.0 L1385.0 180.0 L1384.0 190.0 L1388.0 195.0 M1428.0 102.0 L1445.0 110.0 L1470.0 121.0 L1471.0 136.0 M1358.0 187.5 L1362.0 178.0 L1372.0 182.0 L1374.0 200.0 L1376.0 240.0 L1378.0 262.0 L1411.0 262.0 M1507.0 10.0 L1505.0 32.0 L1498.0 55.0 L1494.0 68.0 L1492.0 90.0 L1490.0 110.0 L1483.0 118.0 L1483.0 125.0 M1505.0 32.0 L1608.0 34.0 L1618.0 28.0 M1545.0 10.0 L1543.0 32.0 M1494.0 69.0 L1583.0 70.0 L1603.0 71.0 L1608.0 85.0 L1612.0 97.0 M1582.5 70.0 L1582.5 104.0" fill="none" stroke="#8f8f8f" stroke-width="2.0"/>
<path d="M128.6 814.4 L134.9 827.0 L136.4 839.5 L139.6 855.2 L150.5 864.6 L156.8 877.1 L163.1 889.6 L172.5 895.9 L188.1 899.0 L197.5 902.2 L200.7 914.7 L200.7 927.2 L194.4 933.5 L181.9 939.8 L169.3 946.0 L166.2 955.4 L156.8 961.7 L144.3 968.0 L136.4 974.3 L141.1 983.7 L144.3 996.2 L147.4 1005.6 L134.9 1015.0 L122.3 1024.4 L106.7 1036.9 L100.4 1043.2 L122.3 1055.7 L134.9 1065.1 L147.4 1071.4 L156.8 1074.5 L166.2 1083.9 L178.7 1087.1 L194.4 1085.5 L203.8 1082.4 L213.2 1083.9 L228.9 1090.2 L238.3 1096.5 M128.6 814.4 L116.1 805.0 L106.7 811.3 L100.4 827.0 L84.7 833.2 L81.6 842.6 L91.0 845.8 L87.9 858.3 L75.3 867.7 L62.8 877.1 L69.1 889.6 L75.3 902.2 L81.6 914.7 L91.0 924.1 L100.4 933.5 L111.4 936.6 L103.5 941.3 L87.9 942.9 L80.0 949.2 L83.2 961.7 L80.0 972.7 M15.8 942.9 L28.3 949.2 L40.9 961.7 L53.4 960.1 L65.9 968.0 L80.0 972.7 M80.0 972.7 L87.9 983.7 L94.1 999.3 L97.3 1015.0 L100.4 1027.5 L102.0 1043.2 M80.0 972.7 L69.1 986.8 L56.5 1002.5 L40.9 1015.0 L28.3 1024.4 L15.8 1035.4 M15.8 1068.3 L25.2 1074.5 L34.6 1080.8 L44.0 1074.5 L53.4 1077.7 L55.0 1090.2 L53.4 1110.0 M15.8 1090.2 L22.0 1096.5 L28.3 1110.0 M194.4 1085.5 L207.0 1093.3 L205.4 1110.0 M1001.9 1054.2 L1004.6 1062.4 L1008.7 1071.9 L1011.4 1074.6 M1067.3 1045.5 L1068.7 1054.2 L1071.4 1065.1 L1074.1 1073.3 L1071.4 1078.7 M1123.2 1048.7 L1119.1 1056.9 L1123.2 1065.1 L1128.6 1073.3 L1127.2 1080.1 L1115.0 1081.4 L1109.5 1086.9 L1112.3 1095.1 L1120.4 1099.2 L1131.3 1100.5 M1136.8 1076.0 L1142.2 1080.1 L1147.7 1089.6 L1151.8 1099.2 L1153.1 1110.0 M1180.4 1070.5 L1185.8 1078.7 L1189.9 1089.6 L1183.1 1095.1 L1169.5 1097.8 L1168.1 1110.0 M1210.4 1085.5 L1206.3 1095.1 L1207.7 1110.0 M1026.4 1048.7 L1030.5 1054.2 L1038.7 1055.6 L1045.5 1050.1 L1046.9 1045.5" fill="none" stroke="#959595" stroke-width="1.6"/>
<path d="M15.8 701.6 L44.0 701.6 L53.4 707.9 L65.9 720.4 L81.6 733.0 L91.0 745.5 L100.4 761.2 L109.8 776.8 L122.3 789.4 L134.9 805.0 L147.4 817.6 L150.5 833.2 L156.8 848.9 L166.2 864.6 L172.5 874.0 L185.0 880.2 L197.5 886.5 L210.1 892.8 L222.6 895.9 L238.3 895.9 L250.8 902.2 L258.6 905.3 L263.3 901.6 L272.7 900.6" fill="none" stroke="#000" stroke-width="6"/>
</g>
<clipPath id="clipA"><rect x="20.5" y="14" width="1930.5" height="1093.7"/></clipPath>
<clipPath id="clipB"><rect x="17.2" y="1138.7" width="1935.8" height="1093.7"/></clipPath>
<clipPath id="clipC"><rect x="17.2" y="2263" width="1935.8" height="1092"/></clipPath>
</defs>
<rect width="1965" height="3373" fill="#fff"/>


<g id="panelA">
<g clip-path="url(#clipA)"><use href="#basemap" x="0" y="0"/>
<rect x="464.5" y="14" width="896" height="95.7" fill="#fff"/>
<path d="M114.8 576.6H1212" stroke="#808080" stroke-width="13" stroke-dasharray="37 13.66" fill="none"/>
</g>
<g><text transform="translate(511.21 80.00) scale(0.9470 1)" font-size="46.50" fill="#000">A.</text><text transform="translate(562.79 80.00) scale(1.0516 1)" font-size="46.50" fill="#000">Distribution</text><text transform="translate(819.32 80.00) scale(1.0137 1)" font-size="46.50" fill="#000">of</text><text transform="translate(872.24 80.00) scale(0.8322 1)" font-size="46.50" fill="#000">SBL</text><text transform="translate(956.77 80.00) scale(0.8694 1)" font-size="46.50" fill="#000">sCOIB</text><text transform="translate(1087.44 80.00) scale(1.0109 1)" font-size="46.50" fill="#000">haplotypes</text></g>
<path d="M1260.3 312.4L1358.4 252.1" stroke="#555" stroke-width="2" fill="none"/>
<path d="M1236.8 403.4L1354.3 388" stroke="#555" stroke-width="2" fill="none"/>
<path d="M1166 487L1286.3 497.4" stroke="#555" stroke-width="2" fill="none"/>
<g><circle cx="270.7" cy="251.0" r="71.1" fill="#2f5597"/><path d="M270.7 251.0L270.7 179.9A71.1 71.1 0 0 1 281.7 321.2Z" fill="#ff7c80"/><path d="M270.7 251.0L281.7 321.2A71.1 71.1 0 0 1 244.5 184.9Z" fill="#ffff00"/><path d="M270.7 251.0L244.5 184.9A71.1 71.1 0 0 1 270.7 179.9Z" fill="#2f5597"/><path d="M270.7 251.0L270.7 179.9M270.7 251.0L281.7 321.2M270.7 251.0L244.5 184.9" stroke="#000" stroke-width="2.2" stroke-linecap="round" fill="none"/><circle cx="270.7" cy="251.0" r="71.1" fill="none" stroke="#000" stroke-width="2.2"/><text transform="translate(228.96 296.30) scale(1.0243 1)" font-size="37.60" fill="#000">2017</text></g>
<g><circle cx="868.0" cy="287.0" r="73.7" fill="#ffff00"/><path d="M868.0 287.0L868.0 213.3A73.7 73.7 0 0 1 928.5 329.1Z" fill="#ff7c80"/><path d="M868.0 287.0L928.5 329.1A73.7 73.7 0 1 1 868.0 213.3Z" fill="#ffff00"/><path d="M868.0 287.0L868.0 213.3M868.0 287.0L928.5 329.1" stroke="#000" stroke-width="2.2" stroke-linecap="round" fill="none"/><circle cx="868.0" cy="287.0" r="73.7" fill="none" stroke="#000" stroke-width="2.2"/><text transform="translate(826.57 335.80) scale(1.0228 1)" font-size="37.60" fill="#000">2019</text></g>
<g><circle cx="1427.7" cy="218.6" r="73.5" fill="#ffff00"/><path d="M1427.7 218.6L1427.7 145.1A73.5 73.5 0 1 1 1362.9 183.9Z" fill="#ff7c80"/><path d="M1427.7 218.6L1362.9 183.9A73.5 73.5 0 0 1 1427.7 145.1Z" fill="#ffff00"/><path d="M1427.7 218.6L1427.7 145.1M1427.7 218.6L1362.9 183.9" stroke="#000" stroke-width="2.2" stroke-linecap="round" fill="none"/><circle cx="1427.7" cy="218.6" r="73.5" fill="none" stroke="#000" stroke-width="2.2"/><text transform="translate(1386.97 263.60) scale(1.0228 1)" font-size="37.60" fill="#000">2019</text></g>
<g><circle cx="1427.9" cy="371.1" r="73.3" fill="#ffff00"/><path d="M1427.9 371.1L1427.9 297.8A73.3 73.3 0 1 1 1405.4 440.9Z" fill="#ff7c80"/><path d="M1427.9 371.1L1405.4 440.9A73.3 73.3 0 0 1 1427.9 297.8Z" fill="#ffff00"/><path d="M1427.9 371.1L1427.9 297.8M1427.9 371.1L1405.4 440.9" stroke="#000" stroke-width="2.2" stroke-linecap="round" fill="none"/><circle cx="1427.9" cy="371.1" r="73.3" fill="none" stroke="#000" stroke-width="2.2"/><text transform="translate(1388.47 413.40) scale(1.0212 1)" font-size="37.60" fill="#000">2016</text></g>
<g><circle cx="1357.4" cy="511.6" r="73.2" fill="#2f5597"/><path d="M1357.4 511.6L1357.4 438.5A73.2 73.2 0 1 1 1297.2 553.1Z" fill="#ff7c80"/><path d="M1357.4 511.6L1297.2 553.1A73.2 73.2 0 0 1 1355.5 438.5Z" fill="#ffff00"/><path d="M1357.4 511.6L1355.5 438.5A73.2 73.2 0 0 1 1357.4 438.5Z" fill="#2f5597"/><path d="M1357.4 511.6L1357.4 438.5M1357.4 511.6L1297.2 553.1M1357.4 511.6L1355.5 438.5" stroke="#111" stroke-width="1.7" stroke-linecap="round" fill="none"/><circle cx="1357.4" cy="511.6" r="73.2" fill="none" stroke="#333" stroke-width="1.5"/><text transform="translate(1323.47 558.00) scale(1.0212 1)" font-size="37.60" fill="#000">2016</text></g>
<g><circle cx="1506.3" cy="511.0" r="72.6" fill="#ffff00"/><path d="M1506.3 511.0L1506.3 438.4A72.6 72.6 0 0 1 1552.8 455.2Z" fill="#ff7c80"/><path d="M1506.3 511.0L1552.8 455.2A72.6 72.6 0 1 1 1506.3 438.4Z" fill="#ffff00"/><path d="M1506.3 511.0L1506.3 438.4M1506.3 511.0L1552.8 455.2" stroke="#000" stroke-width="2.2" stroke-linecap="round" fill="none"/><circle cx="1506.3" cy="511.0" r="72.6" fill="none" stroke="#000" stroke-width="2.2"/><text transform="translate(1465.87 554.50) scale(1.0228 1)" font-size="37.60" fill="#000">2019</text></g>
<g><circle cx="138.8" cy="755.2" r="70.7" fill="#2f5597"/><path d="M138.8 755.2L138.8 684.6A70.7 70.7 0 0 1 142.5 684.6Z" fill="#00b050"/><path d="M138.8 755.2L142.5 684.6A70.7 70.7 0 1 1 70.8 774.4Z" fill="#ff7c80"/><path d="M138.8 755.2L70.8 774.4A70.7 70.7 0 0 1 126.2 685.7Z" fill="#ffff00"/><path d="M138.8 755.2L126.2 685.7A70.7 70.7 0 0 1 138.8 684.6Z" fill="#2f5597"/><path d="M138.8 755.2L138.8 684.6M138.8 755.2L142.5 684.6M138.8 755.2L70.8 774.4M138.8 755.2L126.2 685.7" stroke="#111" stroke-width="1.7" stroke-linecap="round" fill="none"/><circle cx="138.8" cy="755.2" r="70.7" fill="none" stroke="#333" stroke-width="1.5"/><text transform="translate(96.16 802.80) scale(1.0243 1)" font-size="37.60" fill="#000">2017</text></g>
<g><circle cx="282.2" cy="757.0" r="70.0" fill="#ffff00"/><path d="M282.2 757.0L282.2 687.0A70.0 70.0 0 0 1 321.3 698.9Z" fill="#00b050"/><path d="M282.2 757.0L321.3 698.9A70.0 70.0 0 1 1 227.1 713.8Z" fill="#ff7c80"/><path d="M282.2 757.0L227.1 713.8A70.0 70.0 0 0 1 282.2 687.0Z" fill="#ffff00"/><path d="M282.2 757.0L282.2 687.0M282.2 757.0L321.3 698.9M282.2 757.0L227.1 713.8" stroke="#111" stroke-width="1.7" stroke-linecap="round" fill="none"/><circle cx="282.2" cy="757.0" r="70.0" fill="none" stroke="#333" stroke-width="1.5"/><text transform="translate(239.57 803.20) scale(1.0228 1)" font-size="37.60" fill="#000">2019</text></g>
<g><circle cx="494.3" cy="869.1" r="71.1" fill="#ffff00"/><path d="M494.3 869.1L494.3 798.0A71.1 71.1 0 1 1 431.2 836.4Z" fill="#ff7c80"/><path d="M494.3 869.1L431.2 836.4A71.1 71.1 0 0 1 494.3 798.0Z" fill="#ffff00"/><path d="M494.3 869.1L494.3 798.0M494.3 869.1L431.2 836.4" stroke="#000" stroke-width="2.2" stroke-linecap="round" fill="none"/><circle cx="494.3" cy="869.1" r="71.1" fill="none" stroke="#000" stroke-width="2.2"/><text transform="translate(451.47 911.00) scale(1.0228 1)" font-size="37.60" fill="#000">2019</text></g>
<g><circle cx="494.8" cy="728.8" r="71.0" fill="#ffff00"/><path d="M494.8 728.8L494.8 657.8A71.0 71.0 0 1 1 459.2 790.2Z" fill="#ff7c80"/><path d="M494.8 728.8L459.2 790.2A71.0 71.0 0 0 1 494.8 657.8Z" fill="#ffff00"/><path d="M494.8 728.8L494.8 657.8M494.8 728.8L459.2 790.2" stroke="#111" stroke-width="1.7" stroke-linecap="round" fill="none"/><circle cx="494.8" cy="728.8" r="71.0" fill="none" stroke="#333" stroke-width="1.5"/><text transform="translate(451.47 771.40) scale(1.0212 1)" font-size="37.60" fill="#000">2016</text></g>
<g><circle cx="647.6" cy="868.9" r="70.9" fill="#2f5597"/><path d="M647.6 868.9L647.6 798.0A70.9 70.9 0 1 1 579.9 889.9Z" fill="#ff7c80"/><path d="M647.6 868.9L579.9 889.9A70.9 70.9 0 0 1 633.1 799.5Z" fill="#ffff00"/><path d="M647.6 868.9L633.1 799.5A70.9 70.9 0 0 1 647.6 798.0Z" fill="#2f5597"/><path d="M647.6 868.9L647.6 798.0M647.6 868.9L579.9 889.9M647.6 868.9L633.1 799.5" stroke="#000" stroke-width="2.2" stroke-linecap="round" fill="none"/><circle cx="647.6" cy="868.9" r="70.9" fill="none" stroke="#000" stroke-width="2.2"/><text transform="translate(604.17 915.80) scale(1.0228 1)" font-size="37.60" fill="#000">2019</text></g>
<g><circle cx="647.4" cy="728.3" r="70.6" fill="#ffff00"/><path d="M647.4 728.3L647.4 657.7A70.6 70.6 0 1 1 596.1 679.8Z" fill="#ff7c80"/><path d="M647.4 728.3L596.1 679.8A70.6 70.6 0 0 1 647.4 657.7Z" fill="#ffff00"/><path d="M647.4 728.3L647.4 657.7M647.4 728.3L596.1 679.8" stroke="#000" stroke-width="2.2" stroke-linecap="round" fill="none"/><circle cx="647.4" cy="728.3" r="70.6" fill="none" stroke="#000" stroke-width="2.2"/><text transform="translate(604.17 770.10) scale(1.0212 1)" font-size="37.60" fill="#000">2016</text></g>
<g><circle cx="798.4" cy="1013.0" r="71.4" fill="#ffff00"/><path d="M798.4 1013.0L798.4 941.6A71.4 71.4 0 1 1 742.2 968.9Z" fill="#ff7c80"/><path d="M798.4 1013.0L742.2 968.9A71.4 71.4 0 0 1 798.4 941.6Z" fill="#ffff00"/><path d="M798.4 1013.0L798.4 941.6M798.4 1013.0L742.2 968.9" stroke="#000" stroke-width="2.2" stroke-linecap="round" fill="none"/><circle cx="798.4" cy="1013.0" r="71.4" fill="none" stroke="#000" stroke-width="2.2"/><text transform="translate(758.17 1054.90) scale(1.0228 1)" font-size="37.60" fill="#000">2019</text></g>
<g><circle cx="798.3" cy="871.1" r="71.2" fill="#2f5597"/><path d="M798.3 871.1L798.3 799.9A71.2 71.2 0 1 1 728.8 855.4Z" fill="#ff7c80"/><path d="M798.3 871.1L728.8 855.4A71.2 71.2 0 0 1 793.3 800.1Z" fill="#ffff00"/><path d="M798.3 871.1L793.3 800.1A71.2 71.2 0 0 1 798.3 799.9Z" fill="#2f5597"/><path d="M798.3 871.1L798.3 799.9M798.3 871.1L728.8 855.4M798.3 871.1L793.3 800.1" stroke="#000" stroke-width="2.2" stroke-linecap="round" fill="none"/><circle cx="798.3" cy="871.1" r="71.2" fill="none" stroke="#000" stroke-width="2.2"/><text transform="translate(761.36 914.70) scale(1.0243 1)" font-size="37.60" fill="#000">2017</text></g>
<g><circle cx="796.2" cy="728.9" r="70.8" fill="#ffff00"/><path d="M796.2 728.9L796.2 658.1A70.8 70.8 0 1 1 766.2 664.8Z" fill="#ff7c80"/><path d="M796.2 728.9L766.2 664.8A70.8 70.8 0 0 1 796.2 658.1Z" fill="#ffff00"/><path d="M796.2 728.9L796.2 658.1M796.2 728.9L766.2 664.8" stroke="#000" stroke-width="2.2" stroke-linecap="round" fill="none"/><circle cx="796.2" cy="728.9" r="70.8" fill="none" stroke="#000" stroke-width="2.2"/><text transform="translate(753.57 769.20) scale(1.0212 1)" font-size="37.60" fill="#000">2016</text></g>
<g><circle cx="983.2" cy="733.6" r="73.4" fill="#ffff00"/><path d="M983.2 733.6L983.2 660.2A73.4 73.4 0 1 1 910.4 724.5Z" fill="#ff7c80"/><path d="M983.2 733.6L910.4 724.5A73.4 73.4 0 0 1 983.2 660.2Z" fill="#ffff00"/><path d="M983.2 733.6L983.2 660.2M983.2 733.6L910.4 724.5" stroke="#000" stroke-width="2.2" stroke-linecap="round" fill="none"/><circle cx="983.2" cy="733.6" r="73.4" fill="none" stroke="#000" stroke-width="2.2"/><text transform="translate(939.37 774.10) scale(1.0212 1)" font-size="37.60" fill="#000">2016</text></g>
<g><circle cx="1046.3" cy="969.4" r="72.8" fill="#2f5597"/><path d="M1046.3 969.4L1046.3 896.6A72.8 72.8 0 0 1 1050.1 896.7Z" fill="#00b050"/><path d="M1046.3 969.4L1050.1 896.7A72.8 72.8 0 1 1 975.4 986.0Z" fill="#ff7c80"/><path d="M1046.3 969.4L975.4 986.0A72.8 72.8 0 0 1 1033.9 897.7Z" fill="#ffff00"/><path d="M1046.3 969.4L1033.9 897.7A72.8 72.8 0 0 1 1046.3 896.6Z" fill="#2f5597"/><path d="M1046.3 969.4L1046.3 896.6M1046.3 969.4L1050.1 896.7M1046.3 969.4L975.4 986.0M1046.3 969.4L1033.9 897.7" stroke="#000" stroke-width="2.2" stroke-linecap="round" fill="none"/><circle cx="1046.3" cy="969.4" r="72.8" fill="none" stroke="#000" stroke-width="2.2"/><text transform="translate(1008.96 1018.40) scale(1.0243 1)" font-size="37.60" fill="#000">2017</text></g>
<g><circle cx="1194.9" cy="968.9" r="72.5" fill="#2f5597"/><path d="M1194.9 968.9L1194.9 896.4A72.5 72.5 0 1 1 1126.1 991.9Z" fill="#ff7c80"/><path d="M1194.9 968.9L1126.1 991.9A72.5 72.5 0 0 1 1183.3 897.3Z" fill="#ffff00"/><path d="M1194.9 968.9L1183.3 897.3A72.5 72.5 0 0 1 1194.9 896.4Z" fill="#2f5597"/><path d="M1194.9 968.9L1194.9 896.4M1194.9 968.9L1126.1 991.9M1194.9 968.9L1183.3 897.3" stroke="#000" stroke-width="2.2" stroke-linecap="round" fill="none"/><circle cx="1194.9" cy="968.9" r="72.5" fill="none" stroke="#000" stroke-width="2.2"/><text transform="translate(1155.47 1018.40) scale(1.0228 1)" font-size="37.60" fill="#000">2019</text></g>
<g><circle cx="1588.7" cy="996.2" r="76.2" fill="#ffff00"/><path d="M1588.7 996.2L1588.7 920.0A76.2 76.2 0 0 1 1588.7 1072.5Z" fill="#ff7c80"/><path d="M1588.7 996.2L1588.7 1072.5A76.2 76.2 0 0 1 1588.7 920.0Z" fill="#ffff00"/><path d="M1588.7 996.2L1588.7 920.0M1588.7 996.2L1588.7 1072.5" stroke="#111" stroke-width="1.7" stroke-linecap="round" fill="none"/><circle cx="1588.7" cy="996.2" r="76.2" fill="none" stroke="#333" stroke-width="1.5"/><text transform="translate(1545.07 1053.10) scale(1.0210 1)" font-size="37.60" fill="#000">2018</text></g>
<g><circle cx="1850.4" cy="996.2" r="76.0" fill="#ff7c80"/><path d="M1850.4 996.2L1850.4 920.2" stroke="#111" stroke-width="1.7" stroke-linecap="round" fill="none"/><circle cx="1850.4" cy="996.2" r="76.0" fill="none" stroke="#333" stroke-width="1.5"/><text transform="translate(1806.77 1052.10) scale(1.0189 1)" font-size="37.60" fill="#000">2020</text></g>
<g><circle cx="1724.4" cy="996.2" r="76.0" fill="#ff7c80"/><path d="M1724.4 996.2L1724.4 920.2" stroke="#111" stroke-width="1.7" stroke-linecap="round" fill="none"/><circle cx="1724.4" cy="996.2" r="76.0" fill="none" stroke="#333" stroke-width="1.5"/><text transform="translate(1680.47 1040.50) scale(1.0228 1)" font-size="37.60" fill="#000">2019</text></g>
<text transform="translate(128.04 271.50) scale(0.7855 1)" font-size="47.50" fill="#000">KS</text>
<text transform="translate(839.13 408.40) scale(0.9096 1)" font-size="47.50" fill="#000">TN</text>
<text transform="translate(1174.53 327.20) scale(0.8373 1)" font-size="47.50" fill="#000">VA</text>
<text transform="translate(1145.62 417.50) scale(0.8935 1)" font-size="47.50" fill="#000">NC</text>
<text transform="translate(1085.42 501.60) scale(0.7804 1)" font-size="47.50" fill="#000">SC</text>
<text transform="translate(951.87 630.30) scale(0.8904 1)" font-size="47.50" fill="#000">GA</text>
<text transform="translate(468.14 625.20) scale(0.8631 1)" font-size="47.50" fill="#000">LA</text>
<text transform="translate(613.28 625.20) scale(0.9559 1)" font-size="47.50" fill="#000">MS</text>
<text transform="translate(775.62 623.50) scale(0.8683 1)" font-size="47.50" fill="#000">AL</text>
<text transform="translate(183.03 676.80) scale(0.8135 1)" font-size="47.50" fill="#000">TX</text>
<text transform="translate(1089.36 884.90) scale(0.8047 1)" font-size="47.50" fill="#000">FL</text>
<text transform="translate(1693.53 898.90) scale(0.8383 1)" font-size="47.50" fill="#000">PR</text>
<rect x="49.4" y="1057" width="225.8" height="12.5" fill="#000"/>
<text transform="translate(97.23 1041.00) scale(1.0694 1)" font-size="36.60" fill="#000">500 km</text>
<ellipse cx="1677.6" cy="151.6" rx="28.8" ry="28.8" fill="#00b050" stroke="#333" stroke-width="1.8"/>
<g>
<text transform="translate(1721.15 162.10) scale(0.8078 1)" font-size="47.50" fill="#000">C</text>
<text transform="translate(1747.39 169.00) scale(0.9801 1)" font-size="31.00" fill="#000">1035</text>
<text transform="translate(1814.95 162.10) scale(0.8078 1)" font-size="47.50" fill="#000">C</text>
<text transform="translate(1842.38 169.00) scale(0.9840 1)" font-size="31.00" fill="#000">1272</text>
</g>
<ellipse cx="1677.6" cy="236.7" rx="28.8" ry="28.8" fill="#ff7c80" stroke="#333" stroke-width="1.8"/>
<g>
<text transform="translate(1721.15 246.40) scale(0.8078 1)" font-size="47.50" fill="#000">C</text>
<text transform="translate(1747.39 252.90) scale(0.9801 1)" font-size="31.00" fill="#000">1035</text>
<text transform="translate(1814.26 246.40) scale(0.8787 1)" font-size="47.50" fill="#000">T</text>
<text transform="translate(1839.18 252.90) scale(0.9840 1)" font-size="31.00" fill="#000">1272</text>
</g>
<ellipse cx="1677.6" cy="321.7" rx="28.8" ry="28.8" fill="#ffff00" stroke="#333" stroke-width="1.8"/>
<g>
<text transform="translate(1720.96 330.50) scale(0.8787 1)" font-size="47.50" fill="#000">T</text>
<text transform="translate(1745.09 338.10) scale(0.9801 1)" font-size="31.00" fill="#000">1035</text>
<text transform="translate(1814.95 330.50) scale(0.8078 1)" font-size="47.50" fill="#000">C</text>
<text transform="translate(1842.38 338.10) scale(0.9840 1)" font-size="31.00" fill="#000">1272</text>
</g>
<ellipse cx="1677.6" cy="406.9" rx="28.8" ry="28.8" fill="#2f5597" stroke="#333" stroke-width="1.8"/>
<g>
<text transform="translate(1720.96 415.50) scale(0.8787 1)" font-size="47.50" fill="#000">T</text>
<text transform="translate(1745.09 423.10) scale(0.9801 1)" font-size="31.00" fill="#000">1035</text>
<text transform="translate(1814.26 415.50) scale(0.8787 1)" font-size="47.50" fill="#000">T</text>
<text transform="translate(1839.18 423.10) scale(0.9840 1)" font-size="31.00" fill="#000">1272</text>
</g>
<rect x="20.5" y="14" width="1930.5" height="1093.7" fill="none" stroke="#262626" stroke-width="3.6"/>
</g>
<g id="panelB">
<g clip-path="url(#clipB)"><use href="#basemap" x="2.9" y="1124.6"/>
<rect x="461" y="1144" width="947" height="92.3" fill="#fff"/>
<path d="M1249.6 1268.5L909.5 1656.6" stroke="#767171" stroke-width="13" stroke-dasharray="38 12.2" stroke-dashoffset="6" fill="none"/>
</g>
<g><text transform="translate(524.80 1205.60) scale(0.9951 1)" font-size="46.50" fill="#000">B.</text><text transform="translate(575.60 1205.60) scale(1.0489 1)" font-size="46.50" fill="#000">Distribution</text><text transform="translate(829.68 1205.60) scale(1.0326 1)" font-size="46.50" fill="#000">of</text><text transform="translate(882.86 1205.60) scale(0.8758 1)" font-size="46.50" fill="#000">FAW</text><text transform="translate(988.59 1205.60) scale(0.9191 1)" font-size="46.50" fill="#000">fCOIB</text><text transform="translate(1116.45 1205.60) scale(1.0095 1)" font-size="46.50" fill="#000">haplotypes</text></g>
<path d="M1258.6 1430.8L1360.2 1377.3" stroke="#555" stroke-width="2" fill="none"/>
<path d="M1250 1525.2L1360.2 1513.2" stroke="#555" stroke-width="2" fill="none"/>
<path d="M1156.5 1615L1272 1630.8" stroke="#555" stroke-width="2" fill="none"/>
<g><circle cx="277.3" cy="1377.4" r="74.8" fill="#f4b183"/><path d="M277.3 1377.4L277.3 1302.7A74.8 74.8 0 0 1 324.3 1319.3Z" fill="#0070c0"/><path d="M277.3 1377.4L324.3 1319.3A74.8 74.8 0 1 1 229.4 1320.1Z" fill="#ffff00"/><path d="M277.3 1377.4L229.4 1320.1A74.8 74.8 0 0 1 277.3 1302.7Z" fill="#f4b183"/><path d="M277.3 1377.4L277.3 1302.7M277.3 1377.4L324.3 1319.3M277.3 1377.4L229.4 1320.1" stroke="#111" stroke-width="1.7" stroke-linecap="round" fill="none"/><circle cx="277.3" cy="1377.4" r="74.8" fill="none" stroke="#333" stroke-width="1.5"/><text transform="translate(232.16 1422.40) scale(1.0235 1)" font-size="37.60" fill="#000">2011</text></g>
<g><circle cx="934.8" cy="1407.7" r="76.8" fill="#f4b183"/><path d="M934.8 1407.7L934.8 1330.9A76.8 76.8 0 0 1 996.7 1362.2Z" fill="#0070c0"/><path d="M934.8 1407.7L996.7 1362.2A76.8 76.8 0 1 1 861.6 1384.2Z" fill="#ffff00"/><path d="M934.8 1407.7L861.6 1384.2A76.8 76.8 0 0 1 934.8 1330.9Z" fill="#f4b183"/><path d="M934.8 1407.7L934.8 1330.9M934.8 1407.7L996.7 1362.2M934.8 1407.7L861.6 1384.2" stroke="#111" stroke-width="1.7" stroke-linecap="round" fill="none"/><circle cx="934.8" cy="1407.7" r="76.8" fill="none" stroke="#333" stroke-width="1.5"/><text transform="translate(894.18 1464.40) scale(1.0142 1)" font-size="37.60" fill="#000">2014</text></g>
<g><circle cx="789.8" cy="1407.7" r="76.5" fill="#f4b183"/><path d="M789.8 1407.7L789.8 1331.2A76.5 76.5 0 0 1 840.8 1350.6Z" fill="#0070c0"/><path d="M789.8 1407.7L840.8 1350.6A76.5 76.5 0 1 1 721.3 1441.9Z" fill="#ffff00"/><path d="M789.8 1407.7L721.3 1441.9A76.5 76.5 0 0 1 789.8 1331.2Z" fill="#f4b183"/><path d="M789.8 1407.7L789.8 1331.2M789.8 1407.7L840.8 1350.6M789.8 1407.7L721.3 1441.9" stroke="#111" stroke-width="1.7" stroke-linecap="round" fill="none"/><circle cx="789.8" cy="1407.7" r="76.5" fill="none" stroke="#333" stroke-width="1.5"/><text transform="translate(747.57 1464.40) scale(1.0210 1)" font-size="37.60" fill="#000">2008</text></g>
<g><circle cx="1568.2" cy="1345.8" r="74.5" fill="#f4b183"/><path d="M1568.2 1345.8L1568.2 1271.3A74.5 74.5 0 0 1 1582.8 1272.8Z" fill="#0070c0"/><path d="M1568.2 1345.8L1582.8 1272.8A74.5 74.5 0 0 1 1636.1 1376.4Z" fill="#ffff00"/><path d="M1568.2 1345.8L1636.1 1376.4A74.5 74.5 0 1 1 1568.2 1271.3Z" fill="#f4b183"/><path d="M1568.2 1345.8L1568.2 1271.3M1568.2 1345.8L1582.8 1272.8M1568.2 1345.8L1636.1 1376.4" stroke="#111" stroke-width="1.7" stroke-linecap="round" fill="none"/><circle cx="1568.2" cy="1345.8" r="74.5" fill="none" stroke="#333" stroke-width="1.5"/><text transform="translate(1529.77 1394.50) scale(1.0212 1)" font-size="37.60" fill="#000">2013</text></g>
<g><circle cx="1431.2" cy="1345.8" r="74.2" fill="#f4b183"/><path d="M1431.2 1345.8L1431.2 1271.5A74.2 74.2 0 0 1 1446.1 1273.1Z" fill="#0070c0"/><path d="M1431.2 1345.8L1446.1 1273.1A74.2 74.2 0 0 1 1452.2 1417.0Z" fill="#ffff00"/><path d="M1431.2 1345.8L1452.2 1417.0A74.2 74.2 0 1 1 1431.2 1271.5Z" fill="#f4b183"/><path d="M1431.2 1345.8L1431.2 1271.5M1431.2 1345.8L1446.1 1273.1M1431.2 1345.8L1452.2 1417.0" stroke="#111" stroke-width="1.7" stroke-linecap="round" fill="none"/><circle cx="1431.2" cy="1345.8" r="74.2" fill="none" stroke="#333" stroke-width="1.5"/><text transform="translate(1385.26 1392.20) scale(1.0235 1)" font-size="37.60" fill="#000">2011</text></g>
<g><circle cx="1435.3" cy="1507.8" r="74.3" fill="#f4b183"/><path d="M1435.3 1507.8L1435.3 1433.5A74.3 74.3 0 0 1 1509.5 1513.2Z" fill="#ffff00"/><path d="M1435.3 1507.8L1509.5 1513.2A74.3 74.3 0 1 1 1435.3 1433.5Z" fill="#f4b183"/><path d="M1435.3 1507.8L1435.3 1433.5M1435.3 1507.8L1509.5 1513.2" stroke="#111" stroke-width="1.7" stroke-linecap="round" fill="none"/><circle cx="1435.3" cy="1507.8" r="74.3" fill="none" stroke="#333" stroke-width="1.5"/><text transform="translate(1393.57 1560.40) scale(1.0203 1)" font-size="37.60" fill="#000">2005</text></g>
<g><circle cx="1347.4" cy="1642.1" r="74.7" fill="#f4b183"/><path d="M1347.4 1642.1L1347.4 1567.4A74.7 74.7 0 0 1 1365.8 1569.8Z" fill="#0070c0"/><path d="M1347.4 1642.1L1365.8 1569.8A74.7 74.7 0 0 1 1416.9 1669.3Z" fill="#ffff00"/><path d="M1347.4 1642.1L1416.9 1669.3A74.7 74.7 0 1 1 1347.4 1567.4Z" fill="#f4b183"/><path d="M1347.4 1642.1L1347.4 1567.4M1347.4 1642.1L1365.8 1569.8M1347.4 1642.1L1416.9 1669.3" stroke="#111" stroke-width="1.7" stroke-linecap="round" fill="none"/><circle cx="1347.4" cy="1642.1" r="74.7" fill="none" stroke="#333" stroke-width="1.5"/><text transform="translate(1303.96 1692.80) scale(1.0235 1)" font-size="37.60" fill="#000">2011</text></g>
<g><circle cx="132.9" cy="1875.5" r="74.7" fill="#f4b183"/><path d="M132.9 1875.5L132.9 1800.8A74.7 74.7 0 0 1 197.4 1837.8Z" fill="#0070c0"/><path d="M132.9 1875.5L197.4 1837.8A74.7 74.7 0 1 1 88.5 1815.5Z" fill="#ffff00"/><path d="M132.9 1875.5L88.5 1815.5A74.7 74.7 0 0 1 132.9 1800.8Z" fill="#f4b183"/><path d="M132.9 1875.5L132.9 1800.8M132.9 1875.5L197.4 1837.8M132.9 1875.5L88.5 1815.5" stroke="#111" stroke-width="1.7" stroke-linecap="round" fill="none"/><circle cx="132.9" cy="1875.5" r="74.7" fill="none" stroke="#333" stroke-width="1.5"/><text transform="translate(86.88 1909.20) scale(1.0142 1)" font-size="37.60" fill="#000">2004</text></g>
<g><circle cx="282.6" cy="1874.3" r="74.2" fill="#f4b183"/><path d="M282.6 1874.3L282.6 1800.0A74.2 74.2 0 0 1 329.6 1816.8Z" fill="#0070c0"/><path d="M282.6 1874.3L329.6 1816.8A74.2 74.2 0 1 1 247.6 1808.8Z" fill="#ffff00"/><path d="M282.6 1874.3L247.6 1808.8A74.2 74.2 0 0 1 282.6 1800.0Z" fill="#f4b183"/><path d="M282.6 1874.3L282.6 1800.0M282.6 1874.3L329.6 1816.8M282.6 1874.3L247.6 1808.8" stroke="#111" stroke-width="1.7" stroke-linecap="round" fill="none"/><circle cx="282.6" cy="1874.3" r="74.2" fill="none" stroke="#333" stroke-width="1.5"/><text transform="translate(238.76 1913.60) scale(1.0243 1)" font-size="37.60" fill="#000">2007</text></g>
<g><circle cx="209.3" cy="2007.9" r="75.0" fill="#f4b183"/><path d="M209.3 2007.9L209.3 1932.9A75.0 75.0 0 0 1 269.2 1962.6Z" fill="#0070c0"/><path d="M209.3 2007.9L269.2 1962.6A75.0 75.0 0 1 1 195.6 1934.1Z" fill="#ffff00"/><path d="M209.3 2007.9L195.6 1934.1A75.0 75.0 0 0 1 209.3 1932.9Z" fill="#f4b183"/><path d="M209.3 2007.9L209.3 1932.9M209.3 2007.9L269.2 1962.6M209.3 2007.9L195.6 1934.1" stroke="#111" stroke-width="1.7" stroke-linecap="round" fill="none"/><circle cx="209.3" cy="2007.9" r="75.0" fill="none" stroke="#333" stroke-width="1.5"/><text transform="translate(168.06 2044.10) scale(1.0235 1)" font-size="37.60" fill="#000">2011</text></g>
<g><circle cx="498.6" cy="2004.2" r="75.2" fill="#f4b183"/><path d="M498.6 2004.2L498.6 1929.0A75.2 75.2 0 0 1 522.2 1932.8Z" fill="#0070c0"/><path d="M498.6 2004.2L522.2 1932.8A75.2 75.2 0 1 1 452.7 1944.6Z" fill="#ffff00"/><path d="M498.6 2004.2L452.7 1944.6A75.2 75.2 0 0 1 498.6 1929.0Z" fill="#f4b183"/><path d="M498.6 2004.2L498.6 1929.0M498.6 2004.2L522.2 1932.8M498.6 2004.2L452.7 1944.6" stroke="#111" stroke-width="1.7" stroke-linecap="round" fill="none"/><circle cx="498.6" cy="2004.2" r="75.2" fill="none" stroke="#333" stroke-width="1.5"/><text transform="translate(455.27 2050.20) scale(1.0228 1)" font-size="37.60" fill="#000">2009</text></g>
<g><circle cx="498.6" cy="1858.3" r="75.2" fill="#f4b183"/><path d="M498.6 1858.3L498.6 1783.0A75.2 75.2 0 0 1 518.7 1785.8Z" fill="#0070c0"/><path d="M498.6 1858.3L518.7 1785.8A75.2 75.2 0 1 1 478.1 1785.9Z" fill="#ffff00"/><path d="M498.6 1858.3L478.1 1785.9A75.2 75.2 0 0 1 498.6 1783.0Z" fill="#f4b183"/><path d="M498.6 1858.3L498.6 1783.0M498.6 1858.3L518.7 1785.8M498.6 1858.3L478.1 1785.9" stroke="#111" stroke-width="1.7" stroke-linecap="round" fill="none"/><circle cx="498.6" cy="1858.3" r="75.2" fill="none" stroke="#333" stroke-width="1.5"/><text transform="translate(455.26 1909.20) scale(1.0243 1)" font-size="37.60" fill="#000">2007</text></g>
<g><circle cx="660.6" cy="1858.3" r="77.2" fill="#f4b183"/><path d="M660.6 1858.3L660.6 1781.1A77.2 77.2 0 1 1 589.1 1887.2Z" fill="#ffff00"/><path d="M660.6 1858.3L589.1 1887.2A77.2 77.2 0 0 1 660.6 1781.1Z" fill="#f4b183"/><path d="M660.6 1858.3L660.6 1781.1M660.6 1858.3L589.1 1887.2" stroke="#111" stroke-width="1.7" stroke-linecap="round" fill="none"/><circle cx="660.6" cy="1858.3" r="77.2" fill="none" stroke="#333" stroke-width="1.5"/><text transform="translate(625.07 1911.70) scale(1.0210 1)" font-size="37.60" fill="#000">2008</text></g>
<g><circle cx="660.6" cy="2003.3" r="77.0" fill="#f4b183"/><path d="M660.6 2003.3L660.6 1926.3A77.0 77.0 0 1 1 610.5 2061.7Z" fill="#ffff00"/><path d="M660.6 2003.3L610.5 2061.7A77.0 77.0 0 0 1 660.6 1926.3Z" fill="#f4b183"/><path d="M660.6 2003.3L660.6 1926.3M660.6 2003.3L610.5 2061.7" stroke="#111" stroke-width="1.7" stroke-linecap="round" fill="none"/><circle cx="660.6" cy="2003.3" r="77.0" fill="none" stroke="#333" stroke-width="1.5"/><text transform="translate(616.46 2048.50) scale(1.0243 1)" font-size="37.60" fill="#000">2012</text></g>
<g><circle cx="825.4" cy="1859.9" r="77.2" fill="#f4b183"/><path d="M825.4 1859.9L825.4 1782.7A77.2 77.2 0 0 1 840.4 1784.1Z" fill="#0070c0"/><path d="M825.4 1859.9L840.4 1784.1A77.2 77.2 0 0 1 863.2 1927.3Z" fill="#ffff00"/><path d="M825.4 1859.9L863.2 1927.3A77.2 77.2 0 1 1 825.4 1782.7Z" fill="#f4b183"/><path d="M825.4 1859.9L825.4 1782.7M825.4 1859.9L840.4 1784.1M825.4 1859.9L863.2 1927.3" stroke="#111" stroke-width="1.7" stroke-linecap="round" fill="none"/><circle cx="825.4" cy="1859.9" r="77.2" fill="none" stroke="#333" stroke-width="1.5"/><text transform="translate(780.76 1910.90) scale(1.0235 1)" font-size="37.60" fill="#000">2011</text></g>
<g><circle cx="991.2" cy="1861.1" r="75.0" fill="#f4b183"/><path d="M991.2 1861.1L991.2 1786.0A75.0 75.0 0 0 1 1034.8 1800.0Z" fill="#0070c0"/><path d="M991.2 1861.1L1034.8 1800.0A75.0 75.0 0 0 1 1045.9 1912.5Z" fill="#ffff00"/><path d="M991.2 1861.1L1045.9 1912.5A75.0 75.0 0 1 1 991.2 1786.0Z" fill="#f4b183"/><path d="M991.2 1861.1L991.2 1786.0M991.2 1861.1L1034.8 1800.0M991.2 1861.1L1045.9 1912.5" stroke="#111" stroke-width="1.7" stroke-linecap="round" fill="none"/><circle cx="991.2" cy="1861.1" r="75.0" fill="none" stroke="#333" stroke-width="1.5"/><text transform="translate(947.76 1910.90) scale(1.0243 1)" font-size="37.60" fill="#000">2007</text></g>
<g><circle cx="974.9" cy="2101.2" r="74.7" fill="#f4b183"/><path d="M974.9 2101.2L974.9 2026.5A74.7 74.7 0 0 1 996.9 2029.9Z" fill="#0070c0"/><path d="M974.9 2101.2L996.9 2029.9A74.7 74.7 0 0 1 1037.6 2141.7Z" fill="#ffff00"/><path d="M974.9 2101.2L1037.6 2141.7A74.7 74.7 0 1 1 974.9 2026.5Z" fill="#f4b183"/><path d="M974.9 2101.2L974.9 2026.5M974.9 2101.2L996.9 2029.9M974.9 2101.2L1037.6 2141.7" stroke="#111" stroke-width="1.7" stroke-linecap="round" fill="none"/><circle cx="974.9" cy="2101.2" r="74.7" fill="none" stroke="#333" stroke-width="1.5"/><text transform="translate(937.67 2153.50) scale(1.0203 1)" font-size="37.60" fill="#000">2005</text></g>
<g><circle cx="1126.9" cy="2101.2" r="74.2" fill="#f4b183"/><path d="M1126.9 2101.2L1126.9 2026.9A74.2 74.2 0 0 1 1135.4 2027.4Z" fill="#0070c0"/><path d="M1126.9 2101.2L1135.4 2027.4A74.2 74.2 0 0 1 1182.2 2150.8Z" fill="#ffff00"/><path d="M1126.9 2101.2L1182.2 2150.8A74.2 74.2 0 0 1 1180.3 2152.8Z" fill="#00b050"/><path d="M1126.9 2101.2L1180.3 2152.8A74.2 74.2 0 1 1 1126.9 2026.9Z" fill="#f4b183"/><path d="M1126.9 2101.2L1126.9 2026.9M1126.9 2101.2L1135.4 2027.4M1126.9 2101.2L1182.2 2150.8M1126.9 2101.2L1180.3 2152.8" stroke="#111" stroke-width="1.7" stroke-linecap="round" fill="none"/><circle cx="1126.9" cy="2101.2" r="74.2" fill="none" stroke="#333" stroke-width="1.5"/><text transform="translate(1083.78 2153.50) scale(1.0142 1)" font-size="37.60" fill="#000">2014</text></g>
<g><circle cx="1278.2" cy="2101.2" r="74.5" fill="#f4b183"/><path d="M1278.2 2101.2L1278.2 2026.6A74.5 74.5 0 0 1 1290.8 2027.7Z" fill="#0070c0"/><path d="M1278.2 2101.2L1290.8 2027.7A74.5 74.5 0 0 1 1345.5 2133.3Z" fill="#ffff00"/><path d="M1278.2 2101.2L1345.5 2133.3A74.5 74.5 0 1 1 1278.2 2026.6Z" fill="#f4b183"/><path d="M1278.2 2101.2L1278.2 2026.6M1278.2 2101.2L1290.8 2027.7M1278.2 2101.2L1345.5 2133.3" stroke="#111" stroke-width="1.7" stroke-linecap="round" fill="none"/><circle cx="1278.2" cy="2101.2" r="74.5" fill="none" stroke="#333" stroke-width="1.5"/><text transform="translate(1241.17 2153.50) scale(1.0212 1)" font-size="37.60" fill="#000">2016</text></g>
<g><circle cx="1783.1" cy="2064.0" r="72.8" fill="#f4b183"/><path d="M1783.1 2064.0L1783.1 1991.2A72.8 72.8 0 0 1 1789.4 1991.5Z" fill="#0070c0"/><path d="M1783.1 2064.0L1789.4 1991.5A72.8 72.8 0 0 1 1854.8 2051.5Z" fill="#ffff00"/><path d="M1783.1 2064.0L1854.8 2051.5A72.8 72.8 0 0 1 1855.6 2058.0Z" fill="#00b050"/><path d="M1783.1 2064.0L1855.6 2058.0A72.8 72.8 0 1 1 1783.1 1991.2Z" fill="#f4b183"/><path d="M1783.1 2064.0L1783.1 1991.2M1783.1 2064.0L1789.4 1991.5M1783.1 2064.0L1854.8 2051.5M1783.1 2064.0L1855.6 2058.0" stroke="#111" stroke-width="1.7" stroke-linecap="round" fill="none"/><circle cx="1783.1" cy="2064.0" r="72.8" fill="none" stroke="#333" stroke-width="1.5"/><text transform="translate(1740.87 2112.50) scale(1.0212 1)" font-size="37.60" fill="#000">2016</text></g>
<text transform="translate(133.96 1402.30) scale(0.8057 1)" font-size="46.00" fill="#000">KS</text>
<text transform="translate(832.10 1528.80) scale(0.9711 1)" font-size="46.00" fill="#000">TN</text>
<text transform="translate(1171.53 1445.30) scale(0.8597 1)" font-size="46.00" fill="#000">VA</text>
<text transform="translate(1156.26 1539.70) scale(0.9111 1)" font-size="46.00" fill="#000">NC</text>
<text transform="translate(1075.06 1629.60) scale(0.7842 1)" font-size="46.00" fill="#000">SC</text>
<text transform="translate(179.93 1792.70) scale(0.8418 1)" font-size="46.00" fill="#000">TX</text>
<text transform="translate(471.47 1753.00) scale(0.9103 1)" font-size="46.00" fill="#000">LA</text>
<text transform="translate(625.14 1753.00) scale(0.9966 1)" font-size="46.00" fill="#000">MS</text>
<text transform="translate(788.62 1753.00) scale(0.8893 1)" font-size="46.00" fill="#000">AL</text>
<text transform="translate(951.05 1753.00) scale(0.9304 1)" font-size="46.00" fill="#000">GA</text>
<text transform="translate(1086.86 2007.70) scale(0.8309 1)" font-size="46.00" fill="#000">FL</text>
<text transform="translate(1762.07 1963.20) scale(0.8570 1)" font-size="46.00" fill="#000">PR</text>
<rect x="60.6" y="2174.7" width="227.2" height="13" fill="#000"/>
<text transform="translate(110.84 2158.40) scale(1.0616 1)" font-size="36.60" fill="#000">500 km</text>
<ellipse cx="1767.7" cy="1284" rx="27.2" ry="27.2" fill="#0070c0" stroke="#333" stroke-width="1.5"/>
<text transform="translate(1805.03 1292.50) scale(0.8690 1)" font-size="47.00" fill="#000">CSh1</text>
<ellipse cx="1767.7" cy="1369.2" rx="27.2" ry="27.2" fill="#ffff00" stroke="#333" stroke-width="1.5"/>
<text transform="translate(1805.02 1377.80) scale(0.8695 1)" font-size="47.00" fill="#000">CSh2</text>
<ellipse cx="1767.7" cy="1454.4" rx="27.2" ry="27.2" fill="#00b050" stroke="#333" stroke-width="1.5"/>
<text transform="translate(1805.03 1463.20) scale(0.8672 1)" font-size="47.00" fill="#000">CSh3</text>
<ellipse cx="1767.7" cy="1538.8" rx="27.2" ry="27.2" fill="#f4b183" stroke="#333" stroke-width="1.5"/>
<text transform="translate(1805.04 1548.00) scale(0.8620 1)" font-size="47.00" fill="#000">CSh4</text>
<rect x="17.2" y="1138.7" width="1935.8" height="1093.7" fill="none" stroke="#262626" stroke-width="3.6"/>
</g>
<g id="panelC">
<g clip-path="url(#clipC)"><use href="#basemap" x="2.8" y="2249.6"/>
<rect x="433" y="2267" width="908" height="92" fill="#fff"/>
<path d="M107.3 2819.7H1206" stroke="#808080" stroke-width="13.5" stroke-dasharray="37 13.66" fill="none"/>
</g>
<g><text transform="translate(462.09 2329.00) scale(0.9375 1)" font-size="46.50" fill="#000">C.</text><text transform="translate(513.10 2329.00) scale(1.0485 1)" font-size="46.50" fill="#000">Distribution</text><text transform="translate(768.82 2329.00) scale(1.0164 1)" font-size="46.50" fill="#000">of</text><text transform="translate(822.86 2329.00) scale(1.0457 1)" font-size="46.50" fill="#000">the</text><text transform="translate(899.91 2329.00) scale(0.8488 1)" font-size="46.50" fill="#000">SBL</text><text transform="translate(986.05 2329.00) scale(1.0112 1)" font-size="46.50" fill="#000">i65del</text></g><text transform="translate(1112.22 2334.50) scale(1.0031 1)" font-size="30.00" fill="#000">Tpi</text><text transform="translate(1163.69 2329.00) scale(1.0169 1)" font-size="46.50" fill="#000">allele</text>
<path d="M1259 2547.4L1368.6 2510.7" stroke="#555" stroke-width="2" fill="none"/>
<path d="M1237.4 2650L1362.5 2625.9" stroke="#555" stroke-width="2" fill="none"/>
<path d="M1165.6 2746.1L1277.4 2746.1" stroke="#555" stroke-width="2" fill="none"/>
<g><circle cx="267.3" cy="2503.0" r="75.5" fill="#ed7d31"/><path d="M267.3 2503.0L267.3 2427.6A75.5 75.5 0 0 1 337.2 2531.5Z" fill="#9dc3e6"/><path d="M267.3 2503.0L337.2 2531.5A75.5 75.5 0 1 1 267.3 2427.6Z" fill="#ed7d31"/><path d="M267.3 2503.0L267.3 2427.6M267.3 2503.0L337.2 2531.5" stroke="#111" stroke-width="1.7" stroke-linecap="round" fill="none"/><circle cx="267.3" cy="2503.0" r="75.5" fill="none" stroke="#333" stroke-width="1.5"/><text transform="translate(225.66 2551.50) scale(1.0243 1)" font-size="37.60" fill="#000">2017</text></g>
<g><circle cx="857.2" cy="2598.3" r="76.0" fill="#ed7d31"/><path d="M857.2 2598.3L857.2 2522.2A76.0 76.0 0 0 1 917.0 2551.4Z" fill="#9dc3e6"/><path d="M857.2 2598.3L917.0 2551.4A76.0 76.0 0 1 1 857.2 2522.2Z" fill="#ed7d31"/><path d="M857.2 2598.3L857.2 2522.2M857.2 2598.3L917.0 2551.4" stroke="#111" stroke-width="1.7" stroke-linecap="round" fill="none"/><circle cx="857.2" cy="2598.3" r="76.0" fill="none" stroke="#333" stroke-width="1.5"/><text transform="translate(816.37 2643.80) scale(1.0228 1)" font-size="37.60" fill="#000">2019</text></g>
<g><circle cx="1422.9" cy="2454.4" r="75.2" fill="#ed7d31"/><path d="M1422.9 2454.4L1422.9 2379.2A75.2 75.2 0 0 1 1434.8 2528.6Z" fill="#b4c7e7"/><path d="M1422.9 2454.4L1434.8 2528.6A75.2 75.2 0 1 1 1422.9 2379.2Z" fill="#ed7d31"/><path d="M1422.9 2454.4L1422.9 2379.2M1422.9 2454.4L1434.8 2528.6" stroke="#111" stroke-width="1.7" stroke-linecap="round" fill="none"/><circle cx="1422.9" cy="2454.4" r="75.2" fill="none" stroke="#333" stroke-width="1.5"/><text transform="translate(1385.37 2507.10) scale(1.0228 1)" font-size="37.60" fill="#000">2019</text></g>
<g><circle cx="1438.0" cy="2612.3" r="74.8" fill="#ed7d31"/><path d="M1438.0 2612.3L1438.0 2537.6A74.8 74.8 0 0 1 1487.9 2667.9Z" fill="#9dc3e6"/><path d="M1438.0 2612.3L1487.9 2667.9A74.8 74.8 0 1 1 1438.0 2537.6Z" fill="#ed7d31"/><path d="M1438.0 2612.3L1438.0 2537.6M1438.0 2612.3L1487.9 2667.9" stroke="#111" stroke-width="1.7" stroke-linecap="round" fill="none"/><circle cx="1438.0" cy="2612.3" r="74.8" fill="none" stroke="#333" stroke-width="1.5"/><text transform="translate(1398.87 2661.60) scale(1.0212 1)" font-size="37.60" fill="#000">2016</text></g>
<g><circle cx="1352.8" cy="2757.3" r="75.2" fill="#ed7d31"/><path d="M1352.8 2757.3L1352.8 2682.1A75.2 75.2 0 0 1 1419.8 2723.1Z" fill="#9dc3e6"/><path d="M1352.8 2757.3L1419.8 2723.1A75.2 75.2 0 1 1 1352.8 2682.1Z" fill="#ed7d31"/><path d="M1352.8 2757.3L1352.8 2682.1M1352.8 2757.3L1419.8 2723.1" stroke="#111" stroke-width="1.7" stroke-linecap="round" fill="none"/><circle cx="1352.8" cy="2757.3" r="75.2" fill="none" stroke="#333" stroke-width="1.5"/><text transform="translate(1308.77 2800.20) scale(1.0212 1)" font-size="37.60" fill="#000">2016</text></g>
<g><circle cx="1495.3" cy="2757.3" r="74.8" fill="#ed7d31"/><path d="M1495.3 2757.3L1495.3 2682.6A74.8 74.8 0 0 1 1526.1 2825.4Z" fill="#9dc3e6"/><path d="M1495.3 2757.3L1526.1 2825.4A74.8 74.8 0 1 1 1495.3 2682.6Z" fill="#ed7d31"/><path d="M1495.3 2757.3L1495.3 2682.6M1495.3 2757.3L1526.1 2825.4" stroke="#111" stroke-width="1.7" stroke-linecap="round" fill="none"/><circle cx="1495.3" cy="2757.3" r="74.8" fill="none" stroke="#333" stroke-width="1.5"/><text transform="translate(1447.57 2808.80) scale(1.0228 1)" font-size="37.60" fill="#000">2019</text></g>
<g><circle cx="197.6" cy="2983.8" r="75.5" fill="#ed7d31"/><path d="M197.6 2983.8L197.6 2908.4A75.5 75.5 0 0 1 244.9 2925.0Z" fill="#9dc3e6"/><path d="M197.6 2983.8L244.9 2925.0A75.5 75.5 0 1 1 197.6 2908.4Z" fill="#ed7d31"/><path d="M197.6 2983.8L197.6 2908.4M197.6 2983.8L244.9 2925.0" stroke="#111" stroke-width="1.7" stroke-linecap="round" fill="none"/><circle cx="197.6" cy="2983.8" r="75.5" fill="none" stroke="#333" stroke-width="1.5"/><text transform="translate(150.86 3028.90) scale(1.0243 1)" font-size="37.60" fill="#000">2017</text></g>
<g><circle cx="499.3" cy="3128.7" r="75.2" fill="#ed7d31"/><path d="M499.3 3128.7L499.3 3053.4A75.2 75.2 0 0 1 553.2 3076.1Z" fill="#9dc3e6"/><path d="M499.3 3128.7L553.2 3076.1A75.2 75.2 0 1 1 499.3 3053.4Z" fill="#ed7d31"/><path d="M499.3 3128.7L499.3 3053.4M499.3 3128.7L553.2 3076.1" stroke="#111" stroke-width="1.7" stroke-linecap="round" fill="none"/><circle cx="499.3" cy="3128.7" r="75.2" fill="none" stroke="#333" stroke-width="1.5"/><text transform="translate(451.37 3174.10) scale(1.0228 1)" font-size="37.60" fill="#000">2019</text></g>
<g><circle cx="499.3" cy="2980.5" r="75.2" fill="#ed7d31"/><path d="M499.3 2980.5L499.3 2905.2A75.2 75.2 0 0 1 571.6 2959.8Z" fill="#9dc3e6"/><path d="M499.3 2980.5L571.6 2959.8A75.2 75.2 0 1 1 499.3 2905.2Z" fill="#ed7d31"/><path d="M499.3 2980.5L499.3 2905.2M499.3 2980.5L571.6 2959.8" stroke="#111" stroke-width="1.7" stroke-linecap="round" fill="none"/><circle cx="499.3" cy="2980.5" r="75.2" fill="none" stroke="#333" stroke-width="1.5"/><text transform="translate(456.17 3036.30) scale(1.0212 1)" font-size="37.60" fill="#000">2016</text></g>
<g><circle cx="664.0" cy="3120.2" r="75.5" fill="#ed7d31"/><path d="M664.0 3120.2L664.0 3044.8A75.5 75.5 0 0 1 720.8 3070.5Z" fill="#9dc3e6"/><path d="M664.0 3120.2L720.8 3070.5A75.5 75.5 0 1 1 664.0 3044.8Z" fill="#ed7d31"/><path d="M664.0 3120.2L664.0 3044.8M664.0 3120.2L720.8 3070.5" stroke="#111" stroke-width="1.7" stroke-linecap="round" fill="none"/><circle cx="664.0" cy="3120.2" r="75.5" fill="none" stroke="#333" stroke-width="1.5"/><text transform="translate(620.77 3164.30) scale(1.0228 1)" font-size="37.60" fill="#000">2019</text></g>
<g><circle cx="664.0" cy="2970.4" r="75.7" fill="#ed7d31"/><path d="M664.0 2970.4L664.0 2894.8A75.7 75.7 0 0 1 732.5 2938.2Z" fill="#9dc3e6"/><path d="M664.0 2970.4L732.5 2938.2A75.7 75.7 0 1 1 664.0 2894.8Z" fill="#ed7d31"/><path d="M664.0 2970.4L664.0 2894.8M664.0 2970.4L732.5 2938.2" stroke="#111" stroke-width="1.7" stroke-linecap="round" fill="none"/><circle cx="664.0" cy="2970.4" r="75.7" fill="none" stroke="#333" stroke-width="1.5"/><text transform="translate(617.77 3017.90) scale(1.0212 1)" font-size="37.60" fill="#000">2016</text></g>
<g><circle cx="825.2" cy="3263.0" r="74.8" fill="#ed7d31"/><path d="M825.2 3263.0L825.2 3188.2" stroke="#111" stroke-width="1.7" stroke-linecap="round" fill="none"/><circle cx="825.2" cy="3263.0" r="74.8" fill="none" stroke="#333" stroke-width="1.5"/><text transform="translate(780.87 3310.10) scale(1.0228 1)" font-size="37.60" fill="#000">2019</text></g>
<g><circle cx="825.2" cy="3119.0" r="75.0" fill="#ed7d31"/><path d="M825.2 3119.0L825.2 3043.9A75.0 75.0 0 0 1 828.5 3044.0Z" fill="#0070c0"/><path d="M825.2 3119.0L828.5 3044.0A75.0 75.0 0 1 1 825.2 3043.9Z" fill="#ed7d31"/><path d="M825.2 3119.0L825.2 3043.9M825.2 3119.0L828.5 3044.0" stroke="#111" stroke-width="1.7" stroke-linecap="round" fill="none"/><circle cx="825.2" cy="3119.0" r="75.0" fill="none" stroke="#333" stroke-width="1.5"/><text transform="translate(780.86 3163.70) scale(1.0243 1)" font-size="37.60" fill="#000">2017</text></g>
<g><circle cx="824.6" cy="2972.5" r="75.0" fill="#ed7d31"/><path d="M824.6 2972.5L824.6 2897.6A75.0 75.0 0 0 1 882.8 2925.2Z" fill="#9dc3e6"/><path d="M824.6 2972.5L882.8 2925.2A75.0 75.0 0 1 1 824.6 2897.6Z" fill="#ed7d31"/><path d="M824.6 2972.5L824.6 2897.6M824.6 2972.5L882.8 2925.2" stroke="#111" stroke-width="1.7" stroke-linecap="round" fill="none"/><circle cx="824.6" cy="2972.5" r="75.0" fill="none" stroke="#333" stroke-width="1.5"/><text transform="translate(781.67 3020.30) scale(1.0212 1)" font-size="37.60" fill="#000">2016</text></g>
<g><circle cx="980.4" cy="2972.9" r="75.2" fill="#ed7d31"/><path d="M980.4 2972.9L980.4 2897.7" stroke="#111" stroke-width="1.7" stroke-linecap="round" fill="none"/><circle cx="980.4" cy="2972.9" r="75.2" fill="none" stroke="#333" stroke-width="1.5"/><text transform="translate(938.37 3020.30) scale(1.0212 1)" font-size="37.60" fill="#000">2016</text></g>
<g><circle cx="1159.6" cy="3216.1" r="75.8" fill="#ed7d31"/><path d="M1159.6 3216.1L1159.6 3140.3A75.8 75.8 0 0 1 1218.8 3168.8Z" fill="#9dc3e6"/><path d="M1159.6 3216.1L1218.8 3168.8A75.8 75.8 0 1 1 1159.6 3140.3Z" fill="#ed7d31"/><path d="M1159.6 3216.1L1159.6 3140.3M1159.6 3216.1L1218.8 3168.8" stroke="#111" stroke-width="1.7" stroke-linecap="round" fill="none"/><circle cx="1159.6" cy="3216.1" r="75.8" fill="none" stroke="#333" stroke-width="1.5"/><text transform="translate(1117.67 3257.50) scale(1.0228 1)" font-size="37.60" fill="#000">2019</text></g>
<g><circle cx="1026.2" cy="3212.8" r="75.5" fill="#ed7d31"/><path d="M1026.2 3212.8L1026.2 3137.2A75.5 75.5 0 0 1 1062.4 3146.5Z" fill="#9dc3e6"/><path d="M1026.2 3212.8L1062.4 3146.5A75.5 75.5 0 1 1 1026.2 3137.2Z" fill="#ed7d31"/><path d="M1026.2 3212.8L1026.2 3137.2M1026.2 3212.8L1062.4 3146.5" stroke="#111" stroke-width="1.7" stroke-linecap="round" fill="none"/><circle cx="1026.2" cy="3212.8" r="75.5" fill="none" stroke="#333" stroke-width="1.5"/><text transform="translate(982.86 3257.50) scale(1.0243 1)" font-size="37.60" fill="#000">2017</text></g>
<g><circle cx="1603.4" cy="3189.0" r="76.2" fill="#ed7d31"/><path d="M1603.4 3189.0L1603.4 3112.8A76.2 76.2 0 0 1 1638.1 3121.1Z" fill="#9dc3e6"/><path d="M1603.4 3189.0L1638.1 3121.1A76.2 76.2 0 1 1 1603.4 3112.8Z" fill="#ed7d31"/><path d="M1603.4 3189.0L1603.4 3112.8M1603.4 3189.0L1638.1 3121.1" stroke="#111" stroke-width="1.7" stroke-linecap="round" fill="none"/><circle cx="1603.4" cy="3189.0" r="76.2" fill="none" stroke="#333" stroke-width="1.5"/><text transform="translate(1562.27 3235.40) scale(1.0210 1)" font-size="37.60" fill="#000">2018</text></g>
<g><circle cx="1873.8" cy="3189.0" r="75.8" fill="#ed7d31"/><path d="M1873.8 3189.0L1873.8 3113.2" stroke="#111" stroke-width="1.7" stroke-linecap="round" fill="none"/><circle cx="1873.8" cy="3189.0" r="75.8" fill="none" stroke="#333" stroke-width="1.5"/><text transform="translate(1834.27 3232.20) scale(1.0189 1)" font-size="37.60" fill="#000">2020</text></g>
<g><circle cx="1738.1" cy="3189.0" r="75.3" fill="#ed7d31"/><path d="M1738.1 3189.0L1738.1 3113.7A75.3 75.3 0 0 1 1791.8 3136.2Z" fill="#9dc3e6"/><path d="M1738.1 3189.0L1791.8 3136.2A75.3 75.3 0 1 1 1738.1 3113.7Z" fill="#ed7d31"/><path d="M1738.1 3189.0L1738.1 3113.7M1738.1 3189.0L1791.8 3136.2" stroke="#111" stroke-width="1.7" stroke-linecap="round" fill="none"/><circle cx="1738.1" cy="3189.0" r="75.3" fill="none" stroke="#333" stroke-width="1.5"/><text transform="translate(1694.87 3230.70) scale(1.0228 1)" font-size="37.60" fill="#000">2019</text></g>
<text transform="translate(124.22 2528.50) scale(0.7646 1)" font-size="47.50" fill="#000">KS</text>
<text transform="translate(710.41 2656.10) scale(0.9319 1)" font-size="47.50" fill="#000">TN</text>
<text transform="translate(1173.53 2561.70) scale(0.8230 1)" font-size="47.50" fill="#000">VA</text>
<text transform="translate(1146.86 2665.60) scale(0.9078 1)" font-size="47.50" fill="#000">NC</text>
<text transform="translate(1079.54 2762.00) scale(0.7675 1)" font-size="47.50" fill="#000">SC</text>
<text transform="translate(171.40 2889.90) scale(0.8459 1)" font-size="47.50" fill="#000">TX</text>
<text transform="translate(473.55 2878.10) scale(0.8335 1)" font-size="47.50" fill="#000">LA</text>
<text transform="translate(629.26 2880.50) scale(0.9590 1)" font-size="47.50" fill="#000">MS</text>
<text transform="translate(799.62 2878.10) scale(0.8772 1)" font-size="47.50" fill="#000">AL</text>
<text transform="translate(947.18 2878.10) scale(0.8889 1)" font-size="47.50" fill="#000">GA</text>
<text transform="translate(1085.85 3129.50) scale(0.8087 1)" font-size="47.50" fill="#000">FL</text>
<text transform="translate(1708.94 3091.20) scale(0.8116 1)" font-size="47.50" fill="#000">PR</text>
<rect x="57.3" y="3304.2" width="226.9" height="13.2" fill="#000"/>
<text transform="translate(106.54 3288.60) scale(1.0659 1)" font-size="36.60" fill="#000">500 km</text>
<ellipse cx="1699.4" cy="2414.5" rx="27" ry="28.6" fill="#9dc3e6" stroke="#333" stroke-width="1.5"/>
<g><text transform="translate(1735.98 2425.80) scale(1.0585 1)" font-size="45.50" fill="#000">i65del</text><text transform="translate(1863.82 2435.20) scale(1.0253 1)" font-size="29.50" fill="#000">Tpi</text></g>
<ellipse cx="1701.3" cy="2492.4" rx="26.8" ry="28.2" fill="#ed7d31" stroke="#333" stroke-width="1.5"/>
<g><text transform="translate(1738.26 2503.90) scale(1.0302 1)" font-size="45.50" fill="#000">i65(+)</text><text transform="translate(1858.42 2510.80) scale(1.0227 1)" font-size="29.50" fill="#000">Tpi</text></g>
<rect x="17.2" y="2263" width="1935.8" height="1092" fill="none" stroke="#262626" stroke-width="3.6"/>
</g>
</svg></body></html>
